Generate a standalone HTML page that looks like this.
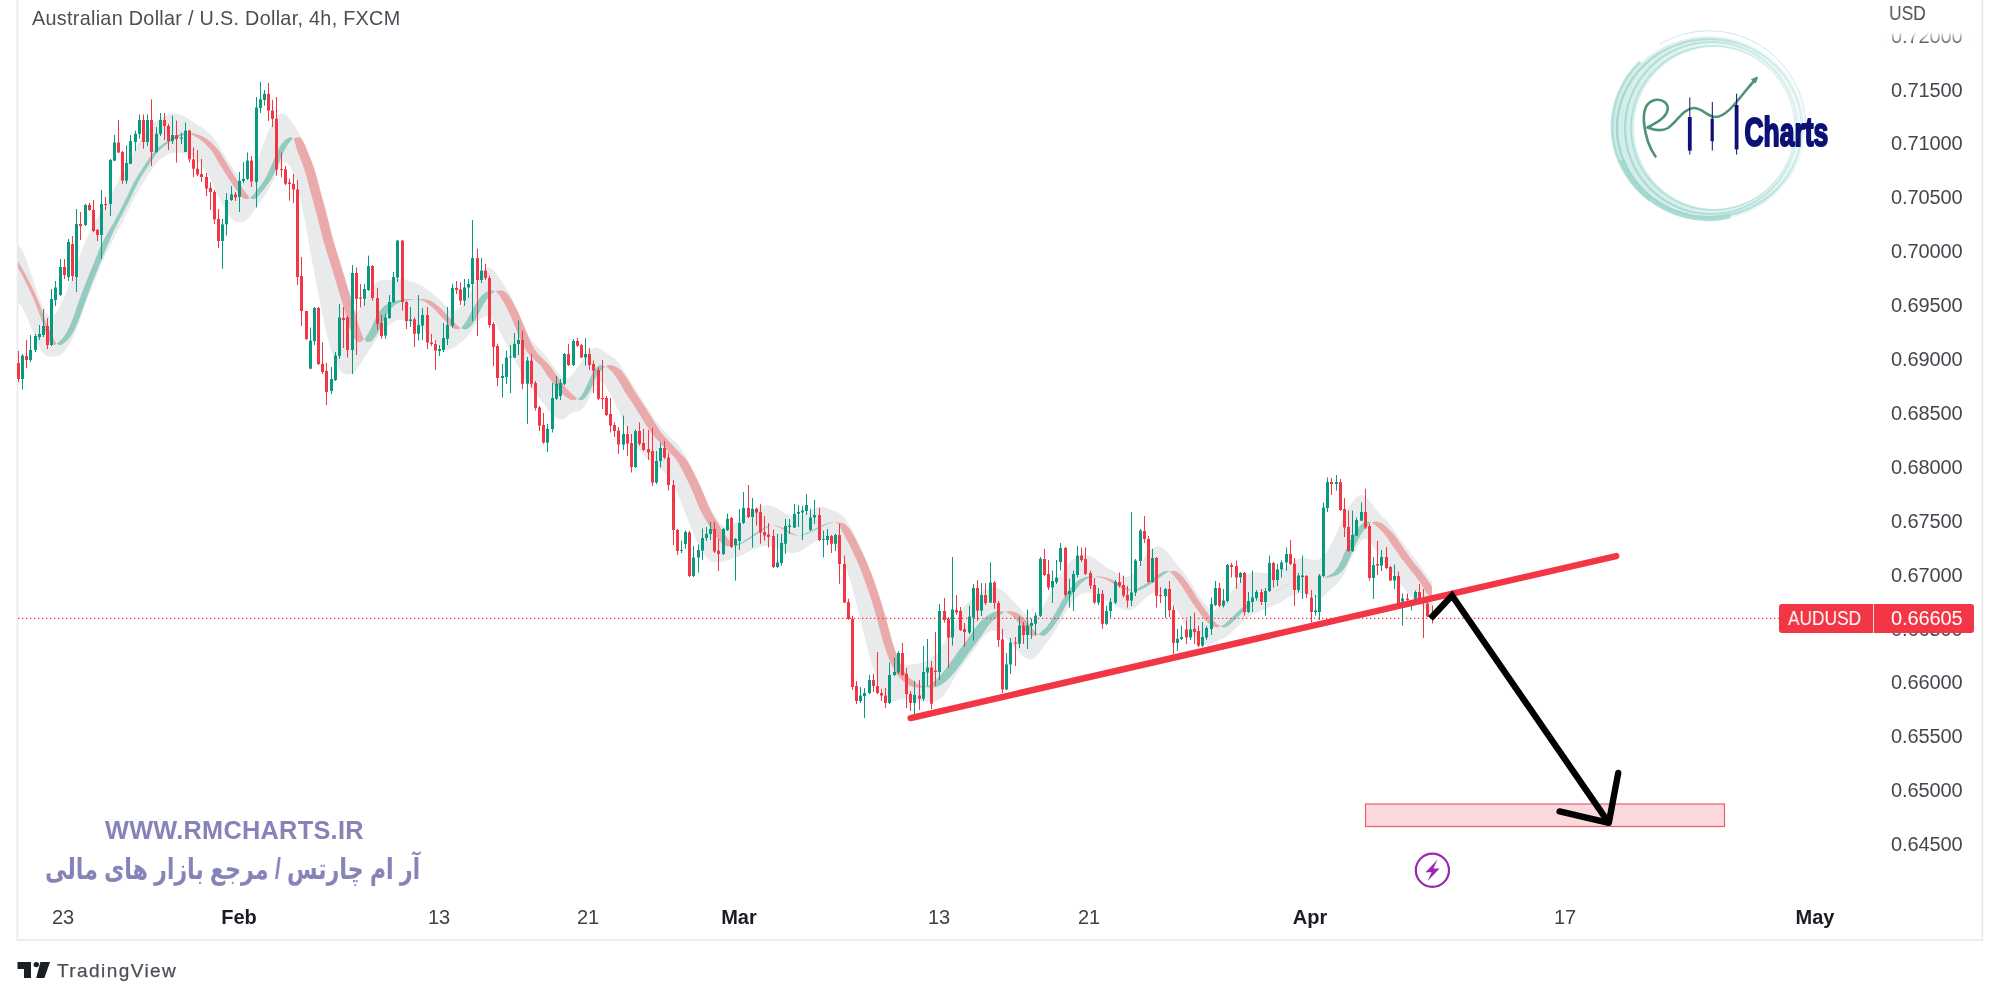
<!DOCTYPE html>
<html lang="en">
<head>
<meta charset="utf-8">
<title>AUDUSD 4h chart</title>
<style>
html,body{margin:0;padding:0;background:#fff;}
body{width:2000px;height:1000px;position:relative;overflow:hidden;font-family:"Liberation Sans","DejaVu Sans",sans-serif;}
#chart{position:absolute;left:0;top:0;width:2000px;height:1000px;will-change:transform;}
.t,.ax,.tm,.wm{will-change:transform;}
.t{position:absolute;white-space:nowrap;line-height:1;color:#4a4c55;font-size:20px;}
.ax{position:absolute;left:1891px;font-size:20px;line-height:1;color:#45474f;white-space:nowrap;letter-spacing:-0.1px;}
.tm{position:absolute;top:907px;font-size:20px;line-height:1;color:#40424a;white-space:nowrap;transform:translateX(-50%);}
.tm.b{font-weight:bold;color:#1a1c24;}
.wm{position:absolute;white-space:nowrap;line-height:1;color:#8583b7;font-weight:bold;}
</style>
</head>
<body>
<svg id="chart" width="2000" height="1000" viewBox="0 0 2000 1000">
<!-- frame -->
<rect x="16.6" y="0" width="1.8" height="941" fill="#ebebeb"/>
<rect x="16.6" y="939.2" width="1966" height="1.8" fill="#ebebeb"/>
<rect x="1981.4" y="0" width="1.8" height="941" fill="#ebebeb"/>
<polygon points="18,245.3 20,247.3 22,250.3 24,254.3 26,259.1 28,264.5 30,270.3 32,276.4 34,282.5 36,288.4 38,294.1 40,299.7 42,304.7 44,309.1 46,312.6 48,315.0 50,316.0 52,316.1 54,315.0 56,313.0 58,310.1 60,306.5 62,302.2 64,297.6 66,292.7 68,287.6 70,282.4 72,277.0 74,271.7 76,266.2 78,260.8 80,255.4 82,250.1 84,245.0 86,240.2 88,235.7 90,231.4 92,227.4 94,223.7 96,220.2 98,216.8 100,213.6 102,210.4 104,207.2 106,203.8 108,200.3 110,196.7 112,193.0 114,189.3 116,185.6 118,182.0 120,178.2 122,174.5 124,170.7 126,166.9 128,163.1 130,159.2 132,155.4 134,151.5 136,147.5 138,143.7 140,140.0 142,136.5 144,133.4 146,130.7 148,128.2 150,126.1 152,124.2 154,122.5 156,121.0 158,119.8 160,118.6 162,117.5 164,116.5 166,115.7 168,114.9 170,114.3 172,113.9 174,113.8 176,113.9 178,114.2 180,114.7 182,115.4 184,116.3 186,117.3 188,118.5 190,119.8 192,121.2 194,122.6 196,123.9 198,125.1 200,126.3 202,127.5 204,128.8 206,130.4 208,132.2 210,134.1 212,136.3 214,138.7 216,141.4 218,144.4 220,147.6 222,150.9 224,154.2 226,157.5 228,160.7 230,163.8 232,166.9 234,170.0 236,173.0 238,175.9 240,178.7 242,180.6 244,181.5 246,181.1 248,179.4 250,176.3 252,172.8 254,168.6 256,164.0 258,159.0 260,153.8 262,148.3 264,142.7 266,137.3 268,132.2 270,127.7 272,123.6 274,120.3 276,117.5 278,115.4 280,114.1 282,113.4 284,113.7 286,114.8 288,116.8 290,119.5 292,122.2 294,125.0 296,128.2 298,131.4 300,135.0 302,139.3 304,144.1 306,149.3 308,154.9 310,161.1 312,167.8 314,174.9 316,182.2 318,189.7 320,197.2 322,204.8 324,212.5 326,220.1 328,227.6 330,234.7 332,241.4 334,248.0 336,254.4 338,260.9 340,267.5 342,274.1 344,280.7 346,287.4 348,294.1 350,300.8 352,306.5 354,310.2 356,311.9 358,311.4 360,308.8 362,305.0 364,301.2 366,297.4 368,293.9 370,290.6 372,287.6 374,285.1 376,283.1 378,281.6 380,280.7 382,280.3 384,280.2 386,280.1 388,280.1 390,279.8 392,279.5 394,279.3 396,279.0 398,278.9 400,278.9 402,279.1 404,279.3 406,279.7 408,280.2 410,280.9 412,281.6 414,282.3 416,283.1 418,283.9 420,284.7 422,285.7 424,287.1 426,288.5 428,290.0 430,291.6 432,293.2 434,294.8 436,296.5 438,298.4 440,300.5 442,302.6 444,304.7 446,306.8 448,308.9 450,310.4 452,311.2 454,311.3 456,310.7 458,309.2 460,307.3 462,305.0 464,302.4 466,299.3 468,295.9 470,292.3 472,288.5 474,284.6 476,280.7 478,277.1 480,273.8 482,271.1 484,269.2 486,267.9 488,267.6 490,267.9 492,269.1 494,270.8 496,273.3 498,276.0 500,278.9 502,281.9 504,284.9 506,287.9 508,291.1 510,294.7 512,298.6 514,302.7 516,307.1 518,311.8 520,316.5 522,321.4 524,326.0 526,330.4 528,334.3 530,337.8 532,340.7 534,343.3 536,345.6 538,347.6 540,349.6 542,351.6 544,353.7 546,356.1 548,358.7 550,361.5 552,364.4 554,367.2 556,369.9 558,372.5 560,374.9 562,376.9 564,378.1 566,378.5 568,378.1 570,376.7 572,374.7 574,372.3 576,369.6 578,366.6 580,363.6 582,360.6 584,357.7 586,355.1 588,352.7 590,350.7 592,349.2 594,348.2 596,347.8 598,347.9 600,348.6 602,349.8 604,351.3 606,352.8 608,354.2 610,355.5 612,356.8 614,358.3 616,360.1 618,362.2 620,364.8 622,367.7 624,370.8 626,374.0 628,377.4 630,380.6 632,383.8 634,387.0 636,390.0 638,393.1 640,396.2 642,399.3 644,402.5 646,405.7 648,408.9 650,412.1 652,415.2 654,418.2 656,421.0 658,423.6 660,426.1 662,428.3 664,430.5 666,432.7 668,434.8 670,436.9 672,439.0 674,441.0 676,443.0 678,445.2 680,447.6 682,450.2 684,453.3 686,456.7 688,460.4 690,464.4 692,468.4 694,472.6 696,477.0 698,481.6 700,486.4 702,491.1 704,495.6 706,499.9 708,503.8 710,507.4 712,510.9 714,514.2 716,517.4 718,520.5 720,523.2 722,525.0 724,526.1 726,526.4 728,526.0 730,525.2 732,524.3 734,523.2 736,522.0 738,520.8 740,519.5 742,518.1 744,516.7 746,515.2 748,513.7 750,512.1 752,510.7 754,509.4 756,508.2 758,507.3 760,506.4 762,505.8 764,505.4 766,505.2 768,505.2 770,505.5 772,506.1 774,506.9 776,507.9 778,509.0 780,510.2 782,511.4 784,512.6 786,513.7 788,514.7 790,515.5 792,516.0 794,516.3 796,516.3 798,516.0 800,515.5 802,514.8 804,513.9 806,512.9 808,511.8 810,510.7 812,509.6 814,508.7 816,507.9 818,507.3 820,507.0 822,506.9 824,507.1 826,507.6 828,508.4 830,509.3 832,510.1 834,510.8 836,511.6 838,512.5 840,513.5 842,515.1 844,517.2 846,519.8 848,522.9 850,526.4 852,530.1 854,534.0 856,538.1 858,542.2 860,546.5 862,551.0 864,555.7 866,560.7 868,566.0 870,571.5 872,577.3 874,583.2 876,589.5 878,596.0 880,602.8 882,609.8 884,617.0 886,624.1 888,630.9 890,637.2 892,643.0 894,648.2 896,652.8 898,656.9 900,660.2 902,662.5 904,664.0 906,664.6 908,664.7 910,664.5 912,664.3 914,664.1 916,663.9 918,663.6 920,663.2 922,662.7 924,662.0 926,661.1 928,660.1 930,658.8 932,657.4 934,655.8 936,654.1 938,651.9 940,649.3 942,646.3 944,642.8 946,638.9 948,634.9 950,630.8 952,626.8 954,623.0 956,619.3 958,615.9 960,612.7 962,609.7 964,607.1 966,604.8 968,602.7 970,600.8 972,599.0 974,597.2 976,595.6 978,594.0 980,592.7 982,591.5 984,590.5 986,589.7 988,589.0 990,588.3 992,588.0 994,587.8 996,587.9 998,588.3 1000,589.1 1002,590.2 1004,591.6 1006,593.2 1008,595.1 1010,597.2 1012,599.5 1014,601.7 1016,603.9 1018,606.1 1020,608.3 1022,610.5 1024,612.7 1026,614.6 1028,616.1 1030,617.0 1032,617.2 1034,616.6 1036,615.5 1038,613.6 1040,611.2 1042,608.2 1044,604.9 1046,601.2 1048,597.3 1050,593.3 1052,589.4 1054,585.6 1056,582.0 1058,578.5 1060,575.3 1062,572.2 1064,569.2 1066,566.5 1068,564.1 1070,562.0 1072,560.2 1074,558.7 1076,557.5 1078,556.5 1080,555.7 1082,555.2 1084,555.1 1086,555.1 1088,555.5 1090,556.1 1092,557.0 1094,558.0 1096,559.3 1098,560.7 1100,562.3 1102,564.0 1104,565.5 1106,566.9 1108,568.2 1110,569.3 1112,570.3 1114,571.4 1116,572.5 1118,573.7 1120,574.8 1122,575.9 1124,576.7 1126,577.1 1128,577.0 1130,576.1 1132,574.6 1134,572.5 1136,569.9 1138,567.0 1140,564.1 1142,561.0 1144,558.1 1146,555.4 1148,552.8 1150,550.6 1152,548.8 1154,547.4 1156,546.6 1158,546.3 1160,546.6 1162,547.4 1164,548.7 1166,550.5 1168,552.8 1170,555.5 1172,558.1 1174,560.7 1176,563.1 1178,565.4 1180,567.6 1182,570.1 1184,572.9 1186,575.8 1188,578.9 1190,582.0 1192,585.1 1194,588.2 1196,591.2 1198,594.1 1200,597.0 1202,599.8 1204,602.6 1206,605.2 1208,607.6 1210,609.3 1212,610.2 1214,610.2 1216,609.4 1218,607.8 1220,605.7 1222,603.5 1224,601.1 1226,598.5 1228,596.0 1230,593.3 1232,590.6 1234,587.9 1236,585.3 1238,582.7 1240,580.4 1242,578.4 1244,576.6 1246,575.1 1248,573.9 1250,573.1 1252,572.6 1254,572.3 1256,572.2 1258,572.3 1260,572.5 1262,572.7 1264,572.9 1266,573.1 1268,573.2 1270,573.2 1272,573.1 1274,572.7 1276,572.2 1278,571.5 1280,570.5 1282,569.4 1284,568.2 1286,566.8 1288,565.4 1290,563.9 1292,562.4 1294,561.1 1296,559.9 1298,559.0 1300,558.4 1302,558.1 1304,558.1 1306,558.3 1308,558.7 1310,559.2 1312,559.7 1314,560.0 1316,560.1 1318,559.7 1320,558.8 1322,557.4 1324,555.4 1326,552.8 1328,549.7 1330,546.1 1332,542.3 1334,538.2 1336,534.0 1338,529.7 1340,525.3 1342,521.0 1344,516.7 1346,512.7 1348,508.9 1350,505.4 1352,502.3 1354,499.7 1356,497.6 1358,496.2 1360,495.4 1362,495.3 1364,496.0 1366,497.3 1368,499.1 1370,501.4 1372,503.9 1374,506.7 1376,509.3 1378,511.8 1380,514.1 1382,516.2 1384,518.1 1386,520.1 1388,522.3 1390,524.7 1392,527.3 1394,530.1 1396,533.0 1398,535.9 1400,538.8 1402,541.6 1404,544.4 1406,547.1 1408,549.8 1410,552.4 1412,554.9 1414,557.5 1416,560.0 1418,562.6 1420,565.3 1422,568.0 1424,570.9 1426,573.9 1428,576.9 1430,579.4 1432,581.3 1432,614.5 1430,613.5 1428,612.2 1426,610.5 1424,608.6 1422,606.7 1420,604.8 1418,602.9 1416,601.0 1414,599.2 1412,597.4 1410,595.5 1408,593.4 1406,591.1 1404,588.7 1402,586.0 1400,583.2 1398,580.3 1396,577.4 1394,574.4 1392,571.6 1390,568.9 1388,566.4 1386,564.1 1384,561.8 1382,559.4 1380,556.8 1378,554.0 1376,551.0 1374,547.8 1372,544.7 1370,541.7 1368,539.7 1366,538.7 1364,538.9 1362,540.3 1360,542.7 1358,545.7 1356,549.1 1354,552.7 1352,556.7 1350,561.0 1348,565.3 1346,569.7 1344,573.8 1342,577.5 1340,580.6 1338,583.0 1336,584.9 1334,586.4 1332,588.1 1330,589.9 1328,592.0 1326,594.1 1324,596.2 1322,597.6 1320,598.3 1318,598.3 1316,597.9 1314,597.0 1312,596.0 1310,594.9 1308,594.0 1306,593.3 1304,593.0 1302,592.9 1300,593.1 1298,593.5 1296,594.0 1294,594.6 1292,595.4 1290,596.4 1288,597.6 1286,598.8 1284,600.2 1282,601.5 1280,602.7 1278,603.8 1276,604.6 1274,605.4 1272,606.1 1270,606.8 1268,607.5 1266,608.4 1264,609.4 1262,610.3 1260,611.2 1258,612.1 1256,613.1 1254,614.0 1252,615.1 1250,616.2 1248,617.5 1246,619.0 1244,620.6 1242,622.3 1240,624.2 1238,626.1 1236,628.0 1234,630.0 1232,631.9 1230,633.8 1228,635.5 1226,636.9 1224,638.0 1222,638.8 1220,639.7 1218,640.6 1216,641.5 1214,642.7 1212,643.8 1210,644.6 1208,645.1 1206,645.2 1204,644.8 1202,644.1 1200,643.0 1198,641.5 1196,639.7 1194,637.6 1192,635.2 1190,632.5 1188,629.6 1186,626.4 1184,622.9 1182,619.3 1180,615.7 1178,612.1 1176,608.7 1174,605.4 1172,602.5 1170,599.9 1168,597.7 1166,595.8 1164,594.4 1162,593.3 1160,592.6 1158,592.2 1156,592.3 1154,592.8 1152,593.6 1150,594.7 1148,596.1 1146,597.7 1144,599.4 1142,601.3 1140,603.3 1138,605.3 1136,607.1 1134,608.6 1132,609.7 1130,610.3 1128,610.5 1126,610.3 1124,609.7 1122,608.9 1120,608.0 1118,607.0 1116,605.9 1114,604.9 1112,603.8 1110,602.7 1108,601.5 1106,600.3 1104,599.2 1102,598.0 1100,596.8 1098,595.7 1096,594.8 1094,593.9 1092,593.3 1090,592.8 1088,592.7 1086,592.8 1084,593.2 1082,593.9 1080,594.9 1078,596.3 1076,598.0 1074,600.1 1072,602.6 1070,605.4 1068,608.5 1066,611.7 1064,615.2 1062,618.7 1060,622.3 1058,625.8 1056,629.3 1054,632.5 1052,635.6 1050,638.5 1048,641.0 1046,643.5 1044,646.2 1042,648.9 1040,651.7 1038,654.4 1036,656.7 1034,658.4 1032,659.4 1030,659.7 1028,659.3 1026,658.4 1024,657.0 1022,655.3 1020,653.4 1018,651.4 1016,649.3 1014,647.1 1012,644.9 1010,642.7 1008,640.5 1006,638.4 1004,636.4 1002,634.5 1000,633.0 998,631.7 996,631.0 994,630.6 992,630.8 990,631.5 988,632.7 986,634.3 984,636.4 982,638.8 980,641.5 978,644.3 976,647.2 974,650.0 972,652.8 970,655.5 968,658.1 966,660.8 964,663.6 962,666.3 960,669.2 958,672.1 956,675.2 954,678.6 952,682.0 950,685.5 948,689.0 946,692.1 944,694.8 942,697.0 940,698.7 938,699.9 936,700.9 934,701.4 932,701.8 930,701.9 928,701.8 926,701.5 924,701.2 922,700.9 920,700.6 918,700.2 916,699.8 914,699.4 912,699.1 910,698.7 908,698.5 906,698.4 904,698.6 902,699.0 900,699.5 898,700.1 896,700.7 894,701.1 892,701.1 890,700.7 888,699.5 886,697.7 884,695.1 882,691.7 880,687.6 878,682.7 876,677.1 874,671.0 872,664.4 870,657.4 868,650.1 866,642.5 864,634.7 862,626.7 860,618.5 858,610.3 856,602.3 854,594.4 852,586.9 850,579.9 848,573.3 846,567.3 844,561.9 842,557.2 840,553.1 838,549.8 836,546.9 834,544.6 832,542.7 830,541.2 828,540.1 826,539.4 824,539.0 822,539.1 820,539.5 818,540.1 816,541.0 814,542.2 812,543.4 810,544.7 808,546.1 806,547.5 804,548.8 802,550.0 800,551.0 798,551.9 796,552.5 794,552.9 792,553.0 790,552.9 788,552.5 786,552.0 784,551.3 782,550.5 780,549.7 778,548.9 776,548.1 774,547.3 772,546.7 770,546.1 768,545.9 766,545.9 764,546.1 762,546.5 760,547.0 758,547.7 756,548.4 754,549.1 752,550.0 750,551.0 748,552.0 746,553.0 744,554.0 742,555.0 740,555.9 738,556.8 736,557.5 734,558.2 732,558.9 730,559.4 728,560.0 726,560.6 724,561.2 722,561.7 720,562.1 718,562.5 716,562.6 714,562.4 712,561.7 710,560.6 708,559.0 706,557.0 704,554.4 702,551.4 700,547.9 698,544.0 696,539.6 694,535.0 692,530.0 690,525.0 688,519.9 686,514.8 684,509.7 682,504.6 680,499.6 678,494.8 676,490.3 674,486.2 672,482.5 670,479.2 668,476.3 666,473.8 664,471.8 662,470.0 660,468.5 658,467.1 656,465.8 654,464.4 652,462.9 650,461.3 648,459.5 646,457.6 644,455.6 642,453.4 640,451.1 638,448.5 636,445.7 634,442.7 632,439.4 630,435.8 628,432.0 626,427.9 624,423.6 622,419.1 620,414.6 618,410.0 616,405.6 614,401.3 612,397.2 610,393.4 608,389.9 606,386.8 604,384.2 602,382.5 600,382.0 598,382.7 596,384.9 594,388.2 592,392.2 590,396.3 588,400.4 586,404.0 584,407.0 582,409.3 580,410.8 578,411.5 576,411.6 574,412.0 572,412.8 570,414.0 568,415.7 566,417.5 564,418.8 562,419.5 560,419.6 558,419.1 556,418.1 554,416.6 552,414.7 550,412.4 548,409.9 546,407.1 544,404.3 542,401.7 540,399.1 538,396.7 536,394.3 534,391.9 532,389.3 530,386.5 528,383.5 526,380.3 524,377.0 522,373.5 520,369.9 518,366.3 516,362.5 514,358.7 512,354.8 510,351.0 508,347.3 506,343.6 504,339.7 502,335.8 500,331.8 498,327.9 496,324.4 494,321.3 492,319.0 490,317.4 488,316.5 486,316.3 484,316.8 482,317.8 480,319.3 478,321.4 476,324.1 474,327.1 472,330.2 470,333.2 468,336.0 466,338.2 464,339.9 462,341.4 460,342.9 458,344.4 456,345.9 454,347.4 452,348.6 450,349.3 448,349.8 446,349.7 444,349.1 442,347.9 440,346.4 438,344.4 436,342.2 434,339.8 432,337.5 430,335.2 428,333.1 426,331.2 424,329.5 422,328.1 420,326.9 418,325.9 416,325.0 414,324.2 412,323.3 410,322.4 408,321.5 406,320.7 404,320.1 402,319.7 400,319.6 398,319.9 396,320.6 394,321.6 392,322.9 390,324.4 388,326.0 386,327.7 384,329.5 382,331.3 380,333.6 378,336.4 376,339.5 374,342.8 372,346.2 370,349.1 368,352.0 366,355.1 364,358.3 362,361.5 360,364.8 358,367.7 356,370.2 354,372.0 352,373.4 350,374.2 348,374.6 346,374.3 344,373.6 342,372.2 340,370.2 338,367.3 336,363.6 334,358.9 332,353.2 330,346.5 328,339.0 326,330.7 324,321.7 322,312.2 320,302.3 318,292.1 316,281.6 314,271.0 312,260.3 310,249.4 308,238.5 306,227.6 304,217.0 302,206.8 300,197.4 298,189.0 296,181.7 294,175.4 292,170.3 290,166.3 288,163.5 286,161.8 284,161.8 282,163.2 280,165.9 278,169.7 276,174.2 274,178.7 272,183.0 270,187.0 268,190.6 266,193.8 264,196.7 262,199.4 260,202.0 258,204.5 256,207.4 254,210.4 252,213.4 250,216.2 248,218.6 246,220.3 244,221.5 242,222.0 240,222.2 238,222.0 236,221.5 234,220.4 232,218.8 230,216.6 228,213.9 226,210.8 224,207.3 222,203.5 220,199.5 218,195.3 216,191.0 214,186.7 212,182.6 210,178.7 208,175.1 206,171.9 204,169.0 202,166.3 200,163.9 198,161.8 196,159.9 194,158.3 192,157.0 190,155.9 188,155.0 186,154.3 184,153.7 182,153.3 180,153.0 178,152.8 176,152.7 174,152.7 172,153.0 170,153.5 168,154.4 166,155.5 164,156.8 162,158.3 160,160.0 158,161.9 156,164.1 154,166.6 152,169.3 150,172.2 148,175.1 146,178.2 144,181.2 142,184.4 140,187.6 138,191.0 136,194.6 134,198.5 132,202.5 130,206.6 128,210.7 126,214.8 124,218.8 122,222.7 120,226.6 118,230.5 116,234.3 114,238.2 112,242.1 110,246.0 108,250.0 106,254.1 104,258.4 102,262.9 100,267.6 98,272.5 96,277.4 94,282.4 92,287.4 90,292.4 88,297.5 86,302.8 84,308.2 82,313.8 80,319.4 78,324.9 76,330.2 74,335.1 72,339.5 70,343.4 68,346.7 66,349.5 64,351.9 62,353.8 60,355.2 58,356.0 56,356.4 54,356.6 52,356.7 50,356.6 48,356.4 46,355.6 44,353.9 42,351.4 40,348.1 38,344.1 36,339.6 34,334.8 32,329.8 30,324.7 28,319.8 26,315.2 24,311.0 22,307.3 20,304.6 18,302.8" fill="#e5e8e9" opacity="0.9"/>
<polygon points="18.0,267.7 19.0,269.4 20.0,271.2 21.0,273.1 22.0,274.9 23.0,276.8 24.0,278.8 25.0,280.7 26.0,282.7 27.0,284.7 28.0,286.7 29.0,288.8 30.0,290.9 31.0,293.1 32.0,295.4 33.0,297.6 34.0,300.0 35.0,302.4 36.0,304.9 37.0,307.5 38.0,310.1 39.0,312.8 40.0,315.6 41.0,318.4 42.0,321.3 43.0,324.3 44.0,327.2 45.0,330.1 46.0,332.8 47.0,335.4 48.0,337.8 49.0,340.5 50.0,342.5 51.0,344.0 52.0,344.9 53.0,345.1 54.0,345.0 55.0,344.7 56.0,344.3 56.0,342.8 55.0,341.4 54.0,339.8 53.0,337.7 52.0,335.3 51.0,333.6 50.0,331.8 49.0,330.0 48.0,328.1 47.0,325.2 46.0,322.3 45.0,319.3 44.0,316.5 43.0,313.7 42.0,310.9 41.0,308.3 40.0,305.7 39.0,303.2 38.0,300.8 37.0,298.4 36.0,296.1 35.0,293.8 34.0,291.6 33.0,289.5 32.0,287.4 31.0,285.3 30.0,283.3 29.0,281.3 28.0,279.4 27.0,277.5 26.0,275.5 25.0,273.7 24.0,271.8 23.0,270.0 22.0,268.2 21.0,266.5 20.0,264.8 19.0,263.1 18.0,261.5" fill="#eaa2a4" opacity="0.9"/>
<polygon points="57.0,343.6 58.0,342.8 59.0,341.9 60.0,341.0 61.0,340.1 62.0,339.0 63.0,337.8 64.0,336.5 65.0,335.0 66.0,333.3 67.0,331.5 68.0,329.6 69.0,327.5 70.0,325.4 71.0,323.1 72.0,320.6 73.0,318.1 74.0,315.4 75.0,312.6 76.0,309.6 77.0,306.7 78.0,303.8 79.0,301.0 80.0,298.2 81.0,295.5 82.0,292.8 83.0,290.1 84.0,287.4 85.0,284.8 86.0,282.2 87.0,279.7 88.0,277.2 89.0,274.7 90.0,272.3 91.0,269.9 92.0,267.4 93.0,265.0 94.0,262.5 95.0,259.9 96.0,257.4 97.0,254.9 98.0,252.4 99.0,250.1 100.0,247.8 101.0,245.6 102.0,243.6 103.0,241.6 104.0,239.6 105.0,237.6 106.0,235.8 107.0,234.0 108.0,232.3 109.0,230.5 110.0,228.8 111.0,227.1 112.0,225.4 113.0,223.7 114.0,222.0 115.0,220.3 116.0,218.3 117.0,216.4 118.0,214.5 119.0,212.6 120.0,210.6 121.0,208.7 122.0,206.7 123.0,204.7 124.0,202.7 125.0,200.7 126.0,198.6 127.0,196.5 128.0,194.4 129.0,192.4 130.0,190.3 131.0,188.2 132.0,186.1 133.0,184.1 134.0,182.2 135.0,180.3 136.0,178.6 137.0,176.9 138.0,175.3 139.0,173.7 140.0,172.2 141.0,170.7 142.0,169.1 143.0,167.6 144.0,166.0 145.0,164.5 146.0,163.0 147.0,161.5 148.0,160.0 149.0,158.5 150.0,157.1 151.0,155.6 152.0,154.2 153.0,152.9 154.0,151.6 155.0,150.5 156.0,149.5 157.0,148.5 158.0,147.7 159.0,146.9 160.0,146.2 161.0,145.5 162.0,144.7 163.0,144.0 164.0,143.3 165.0,142.5 166.0,141.8 167.0,141.1 168.0,140.4 169.0,139.7 170.0,139.0 171.0,138.4 172.0,137.8 173.0,137.3 174.0,136.7 175.0,136.2 176.0,135.7 177.0,135.2 178.0,134.8 179.0,134.4 180.0,134.0 181.0,133.7 182.0,133.5 183.0,133.3 184.0,133.2 185.0,133.2 186.0,133.3 187.0,133.5 187.0,133.9 186.0,134.2 185.0,134.5 184.0,134.9 183.0,135.3 182.0,135.7 181.0,136.1 180.0,136.5 179.0,137.0 178.0,137.4 177.0,137.9 176.0,138.4 175.0,139.0 174.0,139.5 173.0,140.1 172.0,140.7 171.0,141.4 170.0,142.0 169.0,142.7 168.0,143.4 167.0,144.1 166.0,144.8 165.0,145.6 164.0,146.3 163.0,147.1 162.0,147.8 161.0,148.7 160.0,149.6 159.0,150.7 158.0,151.8 157.0,153.0 156.0,154.4 155.0,155.8 154.0,157.3 153.0,158.7 152.0,160.2 151.0,161.7 150.0,163.2 149.0,164.7 148.0,166.3 147.0,167.8 146.0,169.3 145.0,170.9 144.0,172.4 143.0,174.0 142.0,175.5 141.0,177.1 140.0,178.8 139.0,180.6 138.0,182.5 137.0,184.4 136.0,186.4 135.0,188.5 134.0,190.6 133.0,192.6 132.0,194.7 131.0,196.8 130.0,198.9 129.0,201.0 128.0,203.0 127.0,205.0 126.0,207.0 125.0,209.0 124.0,210.9 123.0,212.8 122.0,214.8 121.0,216.7 120.0,218.6 119.0,220.5 118.0,222.4 117.0,224.4 116.0,226.3 115.0,228.2 114.0,230.4 113.0,232.6 112.0,234.8 111.0,237.1 110.0,239.3 109.0,241.5 108.0,243.8 107.0,246.1 106.0,248.5 105.0,251.1 104.0,253.5 103.0,256.0 102.0,258.5 101.0,261.1 100.0,263.6 99.0,266.1 98.0,268.5 97.0,270.9 96.0,273.3 95.0,275.8 94.0,278.3 93.0,280.8 92.0,283.4 91.0,285.9 90.0,288.6 89.0,291.3 88.0,293.9 87.0,296.7 86.0,299.4 85.0,302.3 84.0,305.1 83.0,308.0 82.0,310.9 81.0,313.8 80.0,316.6 79.0,319.2 78.0,321.7 77.0,324.1 76.0,326.3 75.0,328.4 74.0,330.4 73.0,332.3 72.0,334.1 71.0,335.7 70.0,337.1 69.0,338.4 68.0,339.5 67.0,340.5 66.0,341.4 65.0,342.3 64.0,343.1 63.0,343.9 62.0,344.5 61.0,344.9 60.0,345.1 59.0,345.1 58.0,344.7 57.0,343.9" fill="#8ac8bb" opacity="0.9"/>
<polygon points="188.0,133.7 189.0,134.0 190.0,134.3 191.0,134.6 192.0,135.0 193.0,135.5 194.0,136.0 195.0,136.5 196.0,137.0 197.0,137.5 198.0,138.1 199.0,138.7 200.0,139.4 201.0,140.1 202.0,140.9 203.0,141.8 204.0,142.7 205.0,143.7 206.0,144.7 207.0,145.7 208.0,146.7 209.0,147.7 210.0,148.9 211.0,150.2 212.0,151.6 213.0,153.0 214.0,154.6 215.0,156.3 216.0,158.0 217.0,159.7 218.0,161.4 219.0,163.1 220.0,164.7 221.0,166.4 222.0,168.0 223.0,169.6 224.0,171.2 225.0,172.8 226.0,174.4 227.0,175.9 228.0,177.5 229.0,179.0 230.0,180.5 231.0,182.0 232.0,183.5 233.0,185.0 234.0,186.5 235.0,188.0 236.0,189.4 237.0,190.8 238.0,192.2 239.0,193.6 240.0,194.8 241.0,196.0 242.0,197.0 243.0,197.9 244.0,198.5 245.0,199.0 246.0,199.1 247.0,199.1 248.0,198.8 249.0,198.4 249.0,196.7 248.0,195.6 247.0,194.4 246.0,193.1 245.0,191.7 244.0,190.3 243.0,188.9 242.0,187.4 241.0,186.0 240.0,184.5 239.0,183.0 238.0,181.5 237.0,180.0 236.0,178.5 235.0,176.9 234.0,175.4 233.0,173.8 232.0,172.2 231.0,170.6 230.0,169.0 229.0,167.4 228.0,165.8 227.0,164.1 226.0,162.5 225.0,160.8 224.0,159.1 223.0,157.4 222.0,155.7 221.0,154.0 220.0,152.5 219.0,151.1 218.0,149.7 217.0,148.5 216.0,147.4 215.0,146.3 214.0,145.3 213.0,144.3 212.0,143.3 211.0,142.4 210.0,141.5 209.0,140.6 208.0,139.9 207.0,139.1 206.0,138.5 205.0,137.9 204.0,137.3 203.0,136.8 202.0,136.3 201.0,135.8 200.0,135.3 199.0,134.9 198.0,134.5 197.0,134.2 196.0,133.9 195.0,133.6 194.0,133.4 193.0,133.3 192.0,133.2 191.0,133.3 190.0,133.3 189.0,133.5 188.0,133.7" fill="#eaa2a4" opacity="0.9"/>
<polygon points="250.0,197.7 251.0,196.9 252.0,196.0 253.0,194.8 254.0,193.5 255.0,192.2 256.0,190.9 257.0,189.7 258.0,188.4 259.0,187.2 260.0,186.0 261.0,184.7 262.0,183.3 263.0,181.9 264.0,180.4 265.0,178.7 266.0,176.9 267.0,175.0 268.0,173.0 269.0,170.8 270.0,168.6 271.0,166.4 272.0,164.0 273.0,161.7 274.0,159.4 275.0,157.0 276.0,154.7 277.0,152.5 278.0,150.4 279.0,148.5 280.0,146.7 281.0,145.0 282.0,143.6 283.0,142.4 284.0,141.2 285.0,140.1 286.0,139.2 287.0,138.5 288.0,137.9 289.0,137.5 290.0,137.3 291.0,137.3 292.0,137.8 293.0,138.7 293.0,138.8 292.0,139.6 291.0,140.6 290.0,141.7 289.0,142.9 288.0,144.2 287.0,145.7 286.0,147.4 285.0,149.3 284.0,151.3 283.0,153.4 282.0,155.7 281.0,158.1 280.0,160.4 279.0,162.7 278.0,165.1 277.0,167.4 276.0,169.6 275.0,171.8 274.0,173.9 273.0,175.8 272.0,177.7 271.0,179.5 270.0,181.1 269.0,182.5 268.0,183.9 267.0,185.3 266.0,186.5 265.0,187.8 264.0,189.0 263.0,190.2 262.0,191.5 261.0,192.8 260.0,194.1 259.0,195.3 258.0,196.4 257.0,197.4 256.0,198.2 255.0,198.8 254.0,199.1 253.0,199.1 252.0,199.0 251.0,198.5 250.0,197.8" fill="#8ac8bb" opacity="0.9"/>
<polygon points="294.0,140.0 295.0,142.8 296.0,146.3 297.0,150.2 298.0,152.7 299.0,155.2 300.0,157.7 301.0,160.2 302.0,162.7 303.0,165.4 304.0,168.3 305.0,171.5 306.0,174.9 307.0,178.4 308.0,182.2 309.0,186.0 310.0,189.9 311.0,193.6 312.0,197.3 313.0,200.9 314.0,204.5 315.0,208.2 316.0,211.9 317.0,215.7 318.0,219.7 319.0,223.7 320.0,227.7 321.0,231.8 322.0,235.6 323.0,239.3 324.0,242.9 325.0,246.3 326.0,249.6 327.0,252.8 328.0,255.9 329.0,259.1 330.0,262.3 331.0,265.5 332.0,268.8 333.0,272.1 334.0,275.3 335.0,278.6 336.0,281.9 337.0,285.2 338.0,288.6 339.0,291.9 340.0,295.2 341.0,298.5 342.0,301.9 343.0,305.3 344.0,308.6 345.0,312.0 346.0,315.4 347.0,318.7 348.0,322.1 349.0,325.4 350.0,328.4 351.0,331.3 352.0,333.9 353.0,336.1 354.0,337.9 355.0,339.3 356.0,340.4 357.0,341.3 358.0,341.9 359.0,342.2 360.0,342.0 361.0,341.7 362.0,341.1 363.0,340.3 364.0,339.2 364.0,338.7 363.0,336.9 362.0,334.7 361.0,332.1 360.0,329.4 359.0,326.4 358.0,323.2 357.0,319.6 356.0,316.0 355.0,312.4 354.0,308.7 353.0,305.1 352.0,301.5 351.0,298.1 350.0,294.8 349.0,291.5 348.0,288.2 347.0,284.8 346.0,281.5 345.0,278.2 344.0,274.9 343.0,271.7 342.0,268.4 341.0,265.2 340.0,261.9 339.0,258.7 338.0,255.5 337.0,252.4 336.0,249.2 335.0,245.9 334.0,242.5 333.0,238.9 332.0,235.2 331.0,231.3 330.0,227.3 329.0,223.2 328.0,219.2 327.0,215.3 326.0,211.5 325.0,207.7 324.0,204.1 323.0,200.5 322.0,196.9 321.0,193.2 320.0,189.4 319.0,185.6 318.0,181.7 317.0,178.0 316.0,174.4 315.0,171.1 314.0,168.0 313.0,165.1 312.0,162.3 311.0,159.8 310.0,157.4 309.0,154.9 308.0,152.4 307.0,149.9 306.0,147.5 305.0,145.1 304.0,143.0 303.0,141.1 302.0,139.6 301.0,138.4 300.0,137.6 299.0,137.2 298.0,137.3 297.0,137.5 296.0,137.7 295.0,137.9 294.0,138.1" fill="#eaa2a4" opacity="0.9"/>
<polygon points="365.0,338.0 366.0,336.7 367.0,335.3 368.0,333.7 369.0,332.0 370.0,330.1 371.0,328.2 372.0,326.1 373.0,323.9 374.0,321.7 375.0,319.6 376.0,317.6 377.0,315.7 378.0,313.9 379.0,312.3 380.0,310.9 381.0,309.5 382.0,308.3 383.0,307.2 384.0,306.3 385.0,305.4 386.0,304.8 387.0,304.2 388.0,303.7 389.0,303.2 390.0,302.8 391.0,302.4 392.0,302.0 393.0,301.7 394.0,301.4 395.0,301.1 396.0,300.8 397.0,300.6 398.0,300.4 399.0,300.2 400.0,300.0 401.0,299.8 402.0,299.7 403.0,299.6 404.0,299.4 405.0,299.3 406.0,299.2 407.0,299.1 408.0,299.1 409.0,299.0 410.0,299.0 411.0,299.0 412.0,299.0 413.0,299.0 414.0,299.0 415.0,299.1 415.0,299.2 414.0,299.3 413.0,299.4 412.0,299.5 411.0,299.7 410.0,299.8 409.0,300.0 408.0,300.2 407.0,300.4 406.0,300.6 405.0,300.9 404.0,301.2 403.0,301.4 402.0,301.7 401.0,302.1 400.0,302.4 399.0,302.9 398.0,303.3 397.0,303.8 396.0,304.3 395.0,304.9 394.0,305.6 393.0,306.4 392.0,307.4 391.0,308.5 390.0,309.8 389.0,311.1 388.0,312.6 387.0,314.3 386.0,316.0 385.0,317.9 384.0,320.0 383.0,322.1 382.0,324.3 381.0,326.5 380.0,328.6 379.0,330.5 378.0,332.4 377.0,334.1 376.0,335.6 375.0,336.9 374.0,338.2 373.0,339.4 372.0,340.5 371.0,341.2 370.0,341.7 369.0,342.1 368.0,342.1 367.0,341.8 366.0,341.1 365.0,340.0" fill="#8ac8bb" opacity="0.9"/>
<polygon points="416.0,299.2 417.0,299.4 418.0,299.5 419.0,299.7 420.0,300.0 421.0,300.2 422.0,300.5 423.0,300.9 424.0,301.3 425.0,301.8 426.0,302.4 427.0,303.1 428.0,303.9 429.0,304.6 430.0,305.4 431.0,306.2 432.0,307.1 433.0,308.0 434.0,308.9 435.0,309.9 436.0,311.0 437.0,312.1 438.0,313.2 439.0,314.3 440.0,315.4 441.0,316.5 442.0,317.6 443.0,318.6 444.0,319.7 445.0,320.7 446.0,321.7 447.0,322.7 448.0,323.7 449.0,324.6 450.0,325.5 451.0,326.4 452.0,327.2 453.0,327.9 454.0,328.5 455.0,328.9 456.0,329.2 457.0,329.3 458.0,329.3 459.0,329.0 460.0,328.5 460.0,327.7 459.0,326.9 458.0,326.1 457.0,325.2 456.0,324.3 455.0,323.3 454.0,322.3 453.0,321.3 452.0,320.3 451.0,319.3 450.0,318.2 449.0,317.2 448.0,316.1 447.0,315.0 446.0,313.9 445.0,312.8 444.0,311.7 443.0,310.6 442.0,309.6 441.0,308.6 440.0,307.7 439.0,306.8 438.0,305.9 437.0,305.1 436.0,304.4 435.0,303.6 434.0,302.9 433.0,302.2 432.0,301.6 431.0,301.1 430.0,300.7 429.0,300.4 428.0,300.1 427.0,299.8 426.0,299.6 425.0,299.4 424.0,299.3 423.0,299.1 422.0,299.0 421.0,299.0 420.0,299.0 419.0,299.0 418.0,299.0 417.0,299.1 416.0,299.1" fill="#eaa2a4" opacity="0.9"/>
<polygon points="461.0,327.9 462.0,327.0 463.0,325.9 464.0,324.5 465.0,323.1 466.0,321.6 467.0,320.0 468.0,318.2 469.0,316.3 470.0,314.3 471.0,312.2 472.0,310.2 473.0,308.2 474.0,306.4 475.0,304.7 476.0,303.0 477.0,301.5 478.0,300.1 479.0,298.8 480.0,297.5 481.0,296.4 482.0,295.3 483.0,294.3 484.0,293.4 485.0,292.7 486.0,292.0 487.0,291.5 488.0,291.0 489.0,290.7 490.0,290.5 491.0,290.4 492.0,290.4 493.0,290.5 494.0,290.7 495.0,291.2 495.0,291.6 494.0,292.2 493.0,292.9 492.0,293.6 491.0,294.6 490.0,295.6 489.0,296.7 488.0,297.9 487.0,299.1 486.0,300.5 485.0,301.9 484.0,303.5 483.0,305.1 482.0,306.9 481.0,308.8 480.0,310.7 479.0,312.8 478.0,314.8 477.0,316.8 476.0,318.7 475.0,320.4 474.0,322.0 473.0,323.5 472.0,324.7 471.0,325.9 470.0,326.9 469.0,327.8 468.0,328.4 467.0,329.0 466.0,329.3 465.0,329.4 464.0,329.3 463.0,329.1 462.0,328.8 461.0,328.3" fill="#8ac8bb" opacity="0.9"/>
<polygon points="496.0,291.7 497.0,292.4 498.0,293.4 499.0,294.6 500.0,296.1 501.0,297.7 502.0,299.4 503.0,301.0 504.0,302.8 505.0,304.6 506.0,306.6 507.0,308.5 508.0,310.6 509.0,312.7 510.0,314.8 511.0,316.9 512.0,319.2 513.0,321.5 514.0,323.9 515.0,326.4 516.0,329.0 517.0,331.5 518.0,334.1 519.0,336.5 520.0,338.8 521.0,341.0 522.0,343.2 523.0,345.1 524.0,346.9 525.0,348.6 526.0,350.2 527.0,351.6 528.0,352.9 529.0,354.1 530.0,355.2 531.0,356.3 532.0,357.4 533.0,358.4 534.0,359.3 535.0,360.3 536.0,361.2 537.0,362.0 538.0,363.0 539.0,364.0 540.0,365.1 541.0,366.3 542.0,367.6 543.0,368.9 544.0,370.4 545.0,371.9 546.0,373.4 547.0,374.9 548.0,376.4 549.0,377.8 550.0,379.2 551.0,380.5 552.0,381.8 553.0,383.1 554.0,384.3 555.0,385.5 556.0,386.7 557.0,387.9 558.0,389.1 559.0,390.2 560.0,391.3 561.0,392.3 562.0,393.3 563.0,394.3 564.0,395.2 565.0,396.0 566.0,396.9 567.0,397.6 568.0,398.3 569.0,399.0 570.0,399.5 571.0,399.9 572.0,400.2 573.0,400.2 574.0,400.2 575.0,399.9 576.0,399.3 577.0,399.1 577.0,398.6 576.0,397.5 575.0,396.7 574.0,395.8 573.0,395.0 572.0,394.1 571.0,393.1 570.0,392.1 569.0,391.1 568.0,390.0 567.0,388.9 566.0,387.7 565.0,386.5 564.0,385.3 563.0,384.1 562.0,382.9 561.0,381.6 560.0,380.3 559.0,378.9 558.0,377.5 557.0,376.1 556.0,374.6 555.0,373.1 554.0,371.6 553.0,370.1 552.0,368.7 551.0,367.3 550.0,366.0 549.0,364.8 548.0,363.8 547.0,362.8 546.0,361.8 545.0,361.0 544.0,360.1 543.0,359.1 542.0,358.2 541.0,357.2 540.0,356.1 539.0,355.0 538.0,353.9 537.0,352.7 536.0,351.3 535.0,349.9 534.0,348.3 533.0,346.6 532.0,344.8 531.0,342.7 530.0,340.6 529.0,338.3 528.0,336.0 527.0,333.6 526.0,331.0 525.0,328.4 524.0,325.9 523.0,323.4 522.0,321.1 521.0,318.7 520.0,316.5 519.0,314.3 518.0,312.2 517.0,310.1 516.0,308.1 515.0,306.2 514.0,304.3 513.0,302.5 512.0,300.7 511.0,299.1 510.0,297.5 509.0,296.1 508.0,294.8 507.0,293.6 506.0,292.7 505.0,291.9 504.0,291.3 503.0,290.8 502.0,290.5 501.0,290.4 500.0,290.4 499.0,290.4 498.0,290.5 497.0,290.7 496.0,291.1" fill="#eaa2a4" opacity="0.9"/>
<polygon points="578.0,398.7 579.0,398.4 580.0,397.3 581.0,396.1 582.0,394.6 583.0,393.0 584.0,391.2 585.0,389.3 586.0,387.3 587.0,385.1 588.0,382.8 589.0,380.6 590.0,378.4 591.0,376.2 592.0,374.1 593.0,372.2 594.0,370.6 595.0,369.2 596.0,368.0 597.0,367.0 598.0,366.2 599.0,365.5 600.0,365.1 601.0,365.1 602.0,365.4 603.0,365.7 604.0,366.1 605.0,366.5 605.0,366.8 604.0,367.7 603.0,368.9 602.0,370.3 601.0,370.9 600.0,371.6 599.0,372.4 598.0,373.1 597.0,375.1 596.0,377.3 595.0,379.5 594.0,381.7 593.0,384.0 592.0,386.3 591.0,388.4 590.0,390.3 589.0,392.1 588.0,393.9 587.0,395.4 586.0,396.8 585.0,397.9 584.0,398.8 583.0,399.6 582.0,400.0 581.0,400.2 580.0,400.2 579.0,400.1 578.0,399.5" fill="#8ac8bb" opacity="0.9"/>
<polygon points="606.0,367.0 607.0,367.5 608.0,368.2 609.0,368.9 610.0,369.7 611.0,370.7 612.0,371.8 613.0,372.9 614.0,374.2 615.0,375.6 616.0,377.0 617.0,378.5 618.0,380.0 619.0,381.7 620.0,383.4 621.0,385.1 622.0,386.9 623.0,388.6 624.0,390.2 625.0,391.9 626.0,393.5 627.0,395.1 628.0,396.6 629.0,398.1 630.0,399.6 631.0,401.1 632.0,402.6 633.0,404.1 634.0,405.6 635.0,407.2 636.0,408.8 637.0,410.4 638.0,412.0 639.0,413.6 640.0,415.2 641.0,416.8 642.0,418.4 643.0,420.0 644.0,421.6 645.0,423.2 646.0,424.8 647.0,426.3 648.0,427.9 649.0,429.4 650.0,430.9 651.0,432.3 652.0,433.7 653.0,434.9 654.0,436.2 655.0,437.3 656.0,438.4 657.0,439.4 658.0,440.5 659.0,441.6 660.0,442.7 661.0,443.8 662.0,444.8 663.0,445.9 664.0,447.0 665.0,448.0 666.0,449.0 667.0,450.0 668.0,451.1 669.0,452.1 670.0,453.1 671.0,454.1 672.0,455.1 673.0,456.1 674.0,457.1 675.0,458.2 676.0,459.5 677.0,460.8 678.0,462.3 679.0,464.0 680.0,465.7 681.0,467.6 682.0,469.5 683.0,471.4 684.0,473.4 685.0,475.3 686.0,477.4 687.0,479.4 688.0,481.5 689.0,483.6 690.0,485.8 691.0,487.9 692.0,490.2 693.0,492.5 694.0,494.9 695.0,497.4 696.0,499.9 697.0,502.4 698.0,504.9 699.0,507.2 700.0,509.4 701.0,511.5 702.0,513.4 703.0,515.2 704.0,517.0 705.0,518.7 706.0,520.3 707.0,522.0 708.0,523.7 709.0,525.3 710.0,527.0 711.0,528.6 712.0,530.2 713.0,531.8 714.0,533.3 715.0,534.8 716.0,536.2 717.0,537.5 718.0,538.8 719.0,540.1 720.0,541.3 721.0,542.4 722.0,543.4 723.0,544.3 724.0,545.0 725.0,545.6 726.0,546.0 727.0,546.2 728.0,546.3 729.0,546.3 730.0,546.1 731.0,546.1 732.0,546.0 733.0,545.9 733.0,545.6 732.0,544.5 731.0,543.0 730.0,541.2 729.0,539.9 728.0,538.7 727.0,537.4 726.0,536.0 725.0,534.6 724.0,533.1 723.0,531.6 722.0,530.0 721.0,528.4 720.0,526.8 719.0,525.1 718.0,523.5 717.0,521.8 716.0,520.1 715.0,518.5 714.0,516.8 713.0,515.0 712.0,513.2 711.0,511.2 710.0,509.1 709.0,506.9 708.0,504.6 707.0,502.1 706.0,499.6 705.0,497.1 704.0,494.6 703.0,492.2 702.0,489.9 701.0,487.7 700.0,485.5 699.0,483.4 698.0,481.2 697.0,479.2 696.0,477.1 695.0,475.1 694.0,473.1 693.0,471.2 692.0,469.3 691.0,467.4 690.0,465.5 689.0,463.8 688.0,462.2 687.0,460.7 686.0,459.3 685.0,458.1 684.0,456.9 683.0,455.9 682.0,454.9 681.0,453.9 680.0,452.9 679.0,451.9 678.0,450.9 677.0,449.9 676.0,448.9 675.0,447.9 674.0,446.8 673.0,445.8 672.0,444.7 671.0,443.6 670.0,442.6 669.0,441.5 668.0,440.4 667.0,439.3 666.0,438.2 665.0,437.2 664.0,436.0 663.0,434.8 662.0,433.5 661.0,432.2 660.0,430.7 659.0,429.2 658.0,427.7 657.0,426.1 656.0,424.6 655.0,423.0 654.0,421.4 653.0,419.8 652.0,418.2 651.0,416.6 650.0,415.0 649.0,413.4 648.0,411.8 647.0,410.2 646.0,408.6 645.0,407.0 644.0,405.5 643.0,403.9 642.0,402.4 641.0,400.9 640.0,399.4 639.0,397.9 638.0,396.4 637.0,394.9 636.0,393.3 635.0,391.7 634.0,390.0 633.0,388.4 632.0,386.6 631.0,384.9 630.0,383.1 629.0,381.5 628.0,379.9 627.0,378.3 626.0,376.8 625.0,375.4 624.0,374.1 623.0,372.8 622.0,371.6 621.0,370.6 620.0,369.6 619.0,368.8 618.0,368.1 617.0,367.5 616.0,367.0 615.0,366.5 614.0,366.1 613.0,365.7 612.0,365.4 611.0,365.2 610.0,365.1 609.0,365.1 608.0,365.3 607.0,365.7 606.0,366.1" fill="#eaa2a4" opacity="0.9"/>
<polygon points="734.0,545.8 735.0,545.7 736.0,545.3 737.0,544.8 738.0,544.3 739.0,543.7 740.0,543.1 741.0,542.6 742.0,542.0 743.0,541.4 744.0,540.8 745.0,540.2 746.0,539.6 747.0,538.9 748.0,538.3 749.0,537.7 750.0,537.0 751.0,536.3 752.0,535.6 753.0,534.9 754.0,534.2 755.0,533.5 756.0,532.8 757.0,532.2 758.0,531.5 759.0,530.8 760.0,530.2 761.0,529.5 762.0,528.9 763.0,528.3 764.0,527.7 765.0,527.1 766.0,526.7 767.0,526.3 768.0,525.9 769.0,525.6 770.0,525.5 771.0,525.4 772.0,525.4 772.0,525.6 771.0,525.8 770.0,526.2 769.0,526.6 768.0,527.0 767.0,527.5 766.0,528.1 765.0,528.7 764.0,529.4 763.0,530.0 762.0,530.7 761.0,531.3 760.0,532.0 759.0,532.7 758.0,533.4 757.0,534.1 756.0,534.8 755.0,535.5 754.0,536.2 753.0,536.8 752.0,537.5 751.0,538.2 750.0,538.8 749.0,539.4 748.0,540.0 747.0,540.6 746.0,541.2 745.0,541.8 744.0,542.4 743.0,543.0 742.0,543.6 741.0,544.1 740.0,544.7 739.0,545.2 738.0,545.6 737.0,546.0 736.0,546.2 735.0,546.3 734.0,546.2" fill="#8ac8bb" opacity="0.9"/>
<polygon points="773.0,525.5 774.0,525.7 775.0,525.9 776.0,526.3 777.0,526.6 778.0,527.0 779.0,527.5 780.0,527.9 781.0,528.4 782.0,528.9 783.0,529.5 784.0,530.1 785.0,530.7 786.0,531.4 787.0,531.9 788.0,532.5 789.0,533.0 790.0,533.5 791.0,534.0 792.0,534.4 793.0,534.8 794.0,535.2 795.0,535.4 796.0,535.5 797.0,535.6 798.0,535.6 798.0,535.4 797.0,535.2 796.0,534.9 795.0,534.6 794.0,534.1 793.0,533.6 792.0,533.1 791.0,532.6 790.0,532.1 789.0,531.5 788.0,530.9 787.0,530.3 786.0,529.7 785.0,529.1 784.0,528.5 783.0,528.0 782.0,527.6 781.0,527.1 780.0,526.7 779.0,526.4 778.0,526.0 777.0,525.7 776.0,525.6 775.0,525.4 774.0,525.4 773.0,525.4" fill="#eaa2a4" opacity="0.9"/>
<polygon points="799.0,535.4 800.0,535.2 801.0,534.9 802.0,534.7 803.0,534.3 804.0,534.0 805.0,533.6 806.0,533.1 807.0,532.7 808.0,532.2 809.0,531.8 810.0,531.3 811.0,530.8 812.0,530.3 813.0,529.8 814.0,529.3 815.0,528.8 816.0,528.3 817.0,527.8 818.0,527.3 819.0,526.8 820.0,526.3 821.0,525.8 822.0,525.3 823.0,524.9 824.0,524.4 825.0,524.0 826.0,523.7 827.0,523.3 828.0,523.0 829.0,522.8 830.0,522.6 831.0,522.4 832.0,522.3 833.0,522.3 834.0,522.3 834.0,522.4 833.0,522.5 832.0,522.7 831.0,523.0 830.0,523.3 829.0,523.6 828.0,523.9 827.0,524.3 826.0,524.8 825.0,525.2 824.0,525.7 823.0,526.2 822.0,526.7 821.0,527.2 820.0,527.7 819.0,528.2 818.0,528.7 817.0,529.2 816.0,529.7 815.0,530.2 814.0,530.7 813.0,531.2 812.0,531.6 811.0,532.1 810.0,532.6 809.0,533.0 808.0,533.4 807.0,533.9 806.0,534.2 805.0,534.6 804.0,534.9 803.0,535.1 802.0,535.4 801.0,535.5 800.0,535.6 799.0,535.5" fill="#8ac8bb" opacity="0.9"/>
<polygon points="835.0,522.5 836.0,522.8 837.0,523.2 838.0,523.7 839.0,524.9 840.0,526.6 841.0,528.7 842.0,531.2 843.0,532.9 844.0,534.6 845.0,536.4 846.0,538.2 847.0,540.2 848.0,542.2 849.0,544.2 850.0,546.2 851.0,548.2 852.0,550.2 853.0,552.2 854.0,554.3 855.0,556.4 856.0,558.6 857.0,560.8 858.0,563.1 859.0,565.4 860.0,567.9 861.0,570.4 862.0,573.0 863.0,575.7 864.0,578.4 865.0,581.2 866.0,584.1 867.0,587.0 868.0,589.9 869.0,592.8 870.0,595.8 871.0,598.9 872.0,602.0 873.0,605.3 874.0,608.6 875.0,612.0 876.0,615.6 877.0,619.2 878.0,622.9 879.0,626.5 880.0,630.2 881.0,633.9 882.0,637.5 883.0,641.1 884.0,644.5 885.0,647.7 886.0,650.7 887.0,653.6 888.0,656.2 889.0,658.7 890.0,661.1 891.0,663.4 892.0,665.5 893.0,667.5 894.0,669.5 895.0,671.3 896.0,672.9 897.0,674.4 898.0,675.8 899.0,677.0 900.0,678.2 901.0,679.2 902.0,680.1 903.0,680.9 904.0,681.7 905.0,682.4 906.0,683.1 907.0,683.8 908.0,684.5 909.0,685.1 910.0,685.7 911.0,686.2 912.0,686.6 913.0,686.9 914.0,687.1 915.0,687.3 916.0,687.5 917.0,687.6 918.0,687.7 919.0,687.7 920.0,687.7 921.0,687.6 922.0,687.5 923.0,687.3 924.0,687.1 924.0,686.8 923.0,686.4 922.0,686.0 921.0,685.6 920.0,685.1 919.0,684.6 918.0,684.1 917.0,683.5 916.0,682.9 915.0,682.2 914.0,681.4 913.0,680.6 912.0,679.8 911.0,679.0 910.0,678.2 909.0,677.3 908.0,676.3 907.0,675.3 906.0,674.1 905.0,672.6 904.0,670.9 903.0,669.1 902.0,667.1 901.0,665.1 900.0,662.9 899.0,660.6 898.0,658.3 897.0,655.7 896.0,653.0 895.0,650.1 894.0,647.1 893.0,643.8 892.0,640.4 891.0,636.8 890.0,633.1 889.0,629.5 888.0,625.8 887.0,622.1 886.0,618.5 885.0,614.9 884.0,611.3 883.0,607.9 882.0,604.6 881.0,601.4 880.0,598.2 879.0,595.2 878.0,592.3 877.0,589.3 876.0,586.4 875.0,583.5 874.0,580.6 873.0,577.8 872.0,575.1 871.0,572.5 870.0,569.9 869.0,567.4 868.0,565.0 867.0,562.6 866.0,560.4 865.0,558.2 864.0,556.0 863.0,553.9 862.0,551.8 861.0,549.8 860.0,547.8 859.0,545.8 858.0,543.8 857.0,541.8 856.0,539.8 855.0,537.9 854.0,536.0 853.0,534.2 852.0,532.5 851.0,530.9 850.0,529.5 849.0,528.2 848.0,527.0 847.0,526.0 846.0,525.1 845.0,524.3 844.0,523.7 843.0,523.2 842.0,522.8 841.0,522.7 840.0,522.7 839.0,522.6 838.0,522.6 837.0,522.3 836.0,522.3 835.0,522.3" fill="#eaa2a4" opacity="0.9"/>
<polygon points="925.0,686.8 926.0,686.5 927.0,686.1 928.0,685.7 929.0,685.2 930.0,684.6 931.0,683.9 932.0,683.2 933.0,682.4 934.0,681.6 935.0,680.8 936.0,679.9 937.0,679.0 938.0,678.0 939.0,676.9 940.0,675.8 941.0,674.7 942.0,673.5 943.0,672.3 944.0,671.1 945.0,669.8 946.0,668.5 947.0,667.2 948.0,665.8 949.0,664.5 950.0,663.1 951.0,661.7 952.0,660.3 953.0,658.9 954.0,657.5 955.0,656.1 956.0,654.6 957.0,653.2 958.0,651.8 959.0,650.5 960.0,649.1 961.0,647.8 962.0,646.4 963.0,645.1 964.0,643.8 965.0,642.5 966.0,641.2 967.0,639.9 968.0,638.5 969.0,637.1 970.0,635.7 971.0,634.2 972.0,632.7 973.0,631.1 974.0,629.6 975.0,628.2 976.0,626.8 977.0,625.6 978.0,624.4 979.0,623.3 980.0,622.2 981.0,621.2 982.0,620.3 983.0,619.4 984.0,618.5 985.0,617.6 986.0,616.8 987.0,616.0 988.0,615.3 989.0,614.6 990.0,614.0 991.0,613.5 992.0,613.0 993.0,612.5 994.0,612.1 995.0,611.8 996.0,611.6 997.0,611.4 998.0,611.3 999.0,611.2 1000.0,611.2 1001.0,611.3 1002.0,611.5 1003.0,611.6 1004.0,611.8 1004.0,612.4 1003.0,613.0 1002.0,613.7 1001.0,614.3 1000.0,615.0 999.0,615.7 998.0,616.4 997.0,617.2 996.0,618.0 995.0,618.9 994.0,619.8 993.0,620.8 992.0,621.8 991.0,622.8 990.0,623.8 989.0,625.0 988.0,626.2 987.0,627.5 986.0,628.9 985.0,630.3 984.0,631.9 983.0,633.4 982.0,634.9 981.0,636.4 980.0,637.8 979.0,639.2 978.0,640.6 977.0,641.9 976.0,643.2 975.0,644.5 974.0,645.8 973.0,647.1 972.0,648.4 971.0,649.8 970.0,651.1 969.0,652.5 968.0,653.9 967.0,655.4 966.0,656.8 965.0,658.2 964.0,659.6 963.0,661.0 962.0,662.4 961.0,663.8 960.0,665.2 959.0,666.5 958.0,667.9 957.0,669.2 956.0,670.5 955.0,671.7 954.0,672.9 953.0,674.1 952.0,675.2 951.0,676.3 950.0,677.4 949.0,678.5 948.0,679.4 947.0,680.4 946.0,681.2 945.0,682.0 944.0,682.8 943.0,683.6 942.0,684.3 941.0,684.9 940.0,685.4 939.0,685.9 938.0,686.3 937.0,686.7 936.0,686.9 935.0,687.2 934.0,687.4 933.0,687.6 932.0,687.7 931.0,687.7 930.0,687.7 929.0,687.6 928.0,687.5 927.0,687.4 926.0,687.2 925.0,687.0" fill="#8ac8bb" opacity="0.9"/>
<polygon points="1005.0,611.9 1006.0,612.3 1007.0,612.6 1008.0,613.1 1009.0,613.6 1010.0,614.2 1011.0,614.9 1012.0,615.8 1013.0,616.6 1014.0,617.6 1015.0,618.6 1016.0,619.7 1017.0,620.9 1018.0,622.0 1019.0,623.3 1020.0,624.6 1021.0,625.9 1022.0,627.3 1023.0,628.6 1024.0,629.9 1025.0,631.0 1026.0,632.0 1027.0,632.9 1028.0,633.7 1029.0,634.3 1030.0,634.9 1031.0,635.3 1032.0,635.6 1033.0,635.8 1034.0,635.9 1035.0,635.7 1036.0,635.5 1037.0,635.0 1038.0,634.5 1038.0,634.2 1037.0,633.5 1036.0,632.7 1035.0,631.8 1034.0,630.8 1033.0,629.6 1032.0,628.4 1031.0,627.1 1030.0,625.7 1029.0,624.3 1028.0,623.0 1027.0,621.8 1026.0,620.6 1025.0,619.5 1024.0,618.4 1023.0,617.4 1022.0,616.5 1021.0,615.6 1020.0,614.8 1019.0,614.1 1018.0,613.5 1017.0,612.9 1016.0,612.5 1015.0,612.2 1014.0,611.9 1013.0,611.6 1012.0,611.5 1011.0,611.3 1010.0,611.2 1009.0,611.2 1008.0,611.3 1007.0,611.5 1006.0,611.6 1005.0,611.9" fill="#eaa2a4" opacity="0.9"/>
<polygon points="1039.0,633.8 1040.0,633.0 1041.0,632.0 1042.0,631.0 1043.0,630.2 1044.0,629.3 1045.0,628.4 1046.0,627.4 1047.0,626.4 1048.0,625.0 1049.0,623.5 1050.0,621.9 1051.0,620.4 1052.0,618.7 1053.0,617.1 1054.0,615.4 1055.0,613.6 1056.0,611.8 1057.0,610.0 1058.0,608.1 1059.0,606.2 1060.0,604.4 1061.0,602.6 1062.0,600.9 1063.0,599.2 1064.0,597.5 1065.0,595.9 1066.0,594.4 1067.0,592.9 1068.0,591.5 1069.0,590.1 1070.0,588.8 1071.0,587.6 1072.0,586.4 1073.0,585.3 1074.0,584.1 1075.0,583.1 1076.0,582.2 1077.0,581.4 1078.0,580.6 1079.0,580.0 1080.0,579.4 1081.0,578.9 1082.0,578.4 1083.0,578.0 1084.0,577.6 1085.0,577.2 1086.0,577.0 1087.0,576.7 1088.0,576.5 1089.0,576.4 1090.0,576.3 1091.0,576.3 1092.0,576.3 1093.0,576.3 1094.0,576.4 1094.0,576.6 1093.0,576.8 1092.0,577.0 1091.0,577.4 1090.0,577.7 1089.0,578.1 1088.0,578.6 1087.0,579.1 1086.0,579.6 1085.0,580.2 1084.0,580.9 1083.0,581.7 1082.0,582.6 1081.0,583.6 1080.0,584.6 1079.0,585.7 1078.0,586.9 1077.0,588.1 1076.0,589.4 1075.0,590.7 1074.0,592.1 1073.0,593.5 1072.0,595.1 1071.0,596.6 1070.0,598.3 1069.0,599.9 1068.0,601.6 1067.0,603.4 1066.0,605.2 1065.0,607.0 1064.0,608.9 1063.0,610.8 1062.0,612.6 1061.0,614.4 1060.0,616.1 1059.0,617.8 1058.0,619.5 1057.0,621.1 1056.0,622.6 1055.0,624.1 1054.0,625.6 1053.0,627.0 1052.0,628.4 1051.0,629.6 1050.0,630.8 1049.0,631.8 1048.0,632.8 1047.0,633.7 1046.0,634.6 1045.0,635.2 1044.0,635.7 1043.0,635.9 1042.0,635.8 1041.0,635.5 1040.0,635.2 1039.0,634.8" fill="#8ac8bb" opacity="0.9"/>
<polygon points="1095.0,576.6 1096.0,576.8 1097.0,577.0 1098.0,577.2 1099.0,577.4 1100.0,577.6 1101.0,577.8 1102.0,578.1 1103.0,578.4 1104.0,578.8 1105.0,579.2 1106.0,579.6 1107.0,580.1 1108.0,580.5 1109.0,581.0 1110.0,581.6 1111.0,582.1 1112.0,582.7 1113.0,583.4 1114.0,584.0 1115.0,584.6 1116.0,585.2 1117.0,585.8 1118.0,586.3 1119.0,586.9 1120.0,587.4 1121.0,587.9 1122.0,588.4 1123.0,588.8 1124.0,589.3 1125.0,589.7 1126.0,590.0 1127.0,590.3 1128.0,590.5 1129.0,590.6 1130.0,590.7 1131.0,590.6 1132.0,590.6 1132.0,590.1 1131.0,589.8 1130.0,589.5 1129.0,589.1 1128.0,588.6 1127.0,588.1 1126.0,587.6 1125.0,587.1 1124.0,586.6 1123.0,586.0 1122.0,585.5 1121.0,584.9 1120.0,584.3 1119.0,583.6 1118.0,583.0 1117.0,582.4 1116.0,581.8 1115.0,581.3 1114.0,580.8 1113.0,580.3 1112.0,579.8 1111.0,579.4 1110.0,579.0 1109.0,578.6 1108.0,578.3 1107.0,578.0 1106.0,577.7 1105.0,577.5 1104.0,577.2 1103.0,577.0 1102.0,576.8 1101.0,576.6 1100.0,576.5 1099.0,576.4 1098.0,576.3 1097.0,576.3 1096.0,576.3 1095.0,576.4" fill="#eaa2a4" opacity="0.9"/>
<polygon points="1133.0,590.4 1134.0,590.1 1135.0,589.7 1136.0,589.3 1137.0,588.9 1138.0,588.3 1139.0,587.8 1140.0,587.2 1141.0,586.6 1142.0,586.0 1143.0,585.4 1144.0,584.9 1145.0,584.3 1146.0,583.6 1147.0,583.0 1148.0,582.3 1149.0,581.5 1150.0,580.8 1151.0,580.0 1152.0,579.2 1153.0,578.4 1154.0,577.6 1155.0,576.8 1156.0,576.1 1157.0,575.4 1158.0,574.7 1159.0,574.0 1160.0,573.4 1161.0,572.9 1162.0,572.3 1163.0,571.9 1164.0,571.5 1165.0,571.1 1166.0,571.0 1167.0,570.9 1168.0,571.1 1169.0,571.4 1169.0,571.7 1168.0,572.1 1167.0,572.6 1166.0,573.1 1165.0,573.7 1164.0,574.4 1163.0,575.0 1162.0,575.7 1161.0,576.5 1160.0,577.2 1159.0,578.0 1158.0,578.8 1157.0,579.6 1156.0,580.4 1155.0,581.2 1154.0,581.9 1153.0,582.6 1152.0,583.3 1151.0,584.0 1150.0,584.6 1149.0,585.1 1148.0,585.7 1147.0,586.3 1146.0,586.9 1145.0,587.5 1144.0,588.1 1143.0,588.6 1142.0,589.1 1141.0,589.6 1140.0,589.9 1139.0,590.3 1138.0,590.5 1137.0,590.6 1136.0,590.7 1135.0,590.6 1134.0,590.6 1133.0,590.4" fill="#8ac8bb" opacity="0.9"/>
<polygon points="1170.0,571.8 1171.0,572.6 1172.0,573.8 1173.0,575.0 1174.0,576.0 1175.0,577.1 1176.0,578.3 1177.0,579.5 1178.0,580.8 1179.0,582.2 1180.0,583.6 1181.0,585.0 1182.0,586.5 1183.0,588.1 1184.0,589.6 1185.0,591.2 1186.0,592.9 1187.0,594.5 1188.0,596.1 1189.0,597.7 1190.0,599.2 1191.0,600.7 1192.0,602.2 1193.0,603.6 1194.0,605.0 1195.0,606.4 1196.0,607.9 1197.0,609.3 1198.0,610.7 1199.0,612.2 1200.0,613.6 1201.0,615.0 1202.0,616.3 1203.0,617.5 1204.0,618.7 1205.0,619.8 1206.0,620.9 1207.0,621.9 1208.0,622.8 1209.0,623.7 1210.0,624.5 1211.0,625.2 1212.0,625.9 1213.0,626.4 1214.0,626.9 1215.0,627.1 1216.0,627.3 1217.0,627.4 1218.0,627.3 1219.0,627.0 1220.0,626.6 1220.0,626.0 1219.0,625.3 1218.0,624.6 1217.0,623.9 1216.0,623.0 1215.0,622.1 1214.0,621.1 1213.0,620.0 1212.0,618.9 1211.0,617.7 1210.0,616.5 1209.0,615.2 1208.0,613.8 1207.0,612.4 1206.0,611.0 1205.0,609.6 1204.0,608.1 1203.0,606.7 1202.0,605.3 1201.0,603.8 1200.0,602.4 1199.0,601.0 1198.0,599.5 1197.0,597.9 1196.0,596.4 1195.0,594.8 1194.0,593.1 1193.0,591.5 1192.0,589.9 1191.0,588.3 1190.0,586.8 1189.0,585.3 1188.0,583.8 1187.0,582.4 1186.0,581.0 1185.0,579.7 1184.0,578.5 1183.0,577.3 1182.0,576.2 1181.0,575.1 1180.0,574.2 1179.0,573.4 1178.0,572.6 1177.0,572.0 1176.0,571.5 1175.0,571.2 1174.0,571.0 1173.0,570.9 1172.0,571.0 1171.0,571.1 1170.0,571.3" fill="#eaa2a4" opacity="0.9"/>
<polygon points="1221.0,626.0 1222.0,625.6 1223.0,625.2 1224.0,624.7 1225.0,623.9 1226.0,623.0 1227.0,622.1 1228.0,621.1 1229.0,620.2 1230.0,619.2 1231.0,618.2 1232.0,617.2 1233.0,616.2 1234.0,615.2 1235.0,614.3 1236.0,613.3 1237.0,612.3 1238.0,611.4 1239.0,610.5 1240.0,609.6 1241.0,608.7 1242.0,607.8 1243.0,607.0 1244.0,606.2 1245.0,605.5 1246.0,604.8 1247.0,604.5 1248.0,604.1 1249.0,603.8 1250.0,603.5 1251.0,603.2 1252.0,602.9 1253.0,602.4 1254.0,601.9 1255.0,601.4 1256.0,601.0 1257.0,600.5 1258.0,600.0 1259.0,599.6 1260.0,599.1 1261.0,598.7 1262.0,598.3 1263.0,597.8 1264.0,597.3 1265.0,596.9 1266.0,596.4 1267.0,595.9 1268.0,595.4 1269.0,594.9 1270.0,594.4 1271.0,593.9 1272.0,593.4 1273.0,592.9 1274.0,592.4 1275.0,591.8 1276.0,591.3 1277.0,590.7 1278.0,590.1 1279.0,589.5 1280.0,588.9 1281.0,588.3 1282.0,587.7 1283.0,587.1 1284.0,586.6 1285.0,586.1 1286.0,585.6 1287.0,585.1 1288.0,584.7 1289.0,584.3 1290.0,583.9 1291.0,583.5 1292.0,583.1 1293.0,582.8 1294.0,582.4 1295.0,582.1 1296.0,581.8 1297.0,581.6 1298.0,581.4 1299.0,581.2 1300.0,581.0 1301.0,580.8 1302.0,580.6 1303.0,580.4 1304.0,580.2 1305.0,580.1 1306.0,579.9 1307.0,579.8 1308.0,579.7 1309.0,579.6 1310.0,579.5 1311.0,579.4 1312.0,579.3 1313.0,579.2 1314.0,579.1 1315.0,578.9 1316.0,578.8 1317.0,578.7 1318.0,578.5 1319.0,578.4 1320.0,578.3 1321.0,578.1 1322.0,578.0 1323.0,577.7 1324.0,577.4 1325.0,577.1 1326.0,576.7 1327.0,576.2 1328.0,575.7 1329.0,575.3 1330.0,574.8 1331.0,574.2 1332.0,573.6 1333.0,572.9 1334.0,572.0 1335.0,570.9 1336.0,569.7 1337.0,568.3 1338.0,566.8 1339.0,565.0 1340.0,563.0 1341.0,560.9 1342.0,558.7 1343.0,556.4 1344.0,554.0 1345.0,551.7 1346.0,549.4 1347.0,547.2 1348.0,545.1 1349.0,543.0 1350.0,541.1 1351.0,539.1 1352.0,537.3 1353.0,535.6 1354.0,533.9 1355.0,532.4 1356.0,530.9 1357.0,529.5 1358.0,528.2 1359.0,526.9 1360.0,525.8 1361.0,524.8 1362.0,523.9 1363.0,523.0 1364.0,522.4 1365.0,521.9 1366.0,521.6 1367.0,521.4 1368.0,521.4 1369.0,521.5 1370.0,521.9 1371.0,522.4 1371.0,523.0 1370.0,523.6 1369.0,524.2 1368.0,525.1 1367.0,526.2 1366.0,527.3 1365.0,528.6 1364.0,530.0 1363.0,531.4 1362.0,532.9 1361.0,534.5 1360.0,536.2 1359.0,538.0 1358.0,539.8 1357.0,541.8 1356.0,543.8 1355.0,545.8 1354.0,548.0 1353.0,550.3 1352.0,552.5 1351.0,554.9 1350.0,557.2 1349.0,559.5 1348.0,561.7 1347.0,563.8 1346.0,565.7 1345.0,567.4 1344.0,568.8 1343.0,570.1 1342.0,571.3 1341.0,572.3 1340.0,573.1 1339.0,573.8 1338.0,574.4 1337.0,575.0 1336.0,575.4 1335.0,575.8 1334.0,576.2 1333.0,576.5 1332.0,576.7 1331.0,577.0 1330.0,577.2 1329.0,577.4 1328.0,577.6 1327.0,577.7 1326.0,577.7 1325.0,577.8 1324.0,577.9 1323.0,577.9 1322.0,578.0 1321.0,578.2 1320.0,578.3 1319.0,578.5 1318.0,578.6 1317.0,578.7 1316.0,578.9 1315.0,579.0 1314.0,579.1 1313.0,579.2 1312.0,579.3 1311.0,579.4 1310.0,579.5 1309.0,579.6 1308.0,579.7 1307.0,579.8 1306.0,580.0 1305.0,580.1 1304.0,580.3 1303.0,580.4 1302.0,580.6 1301.0,580.8 1300.0,581.0 1299.0,581.2 1298.0,581.4 1297.0,581.7 1296.0,581.9 1295.0,582.2 1294.0,582.5 1293.0,582.9 1292.0,583.3 1291.0,583.7 1290.0,584.1 1289.0,584.5 1288.0,584.9 1287.0,585.3 1286.0,585.8 1285.0,586.3 1284.0,586.8 1283.0,587.3 1282.0,587.9 1281.0,588.5 1280.0,589.1 1279.0,589.7 1278.0,590.3 1277.0,590.9 1276.0,591.5 1275.0,592.0 1274.0,592.6 1273.0,593.1 1272.0,593.6 1271.0,594.1 1270.0,594.6 1269.0,595.1 1268.0,595.6 1267.0,596.1 1266.0,596.6 1265.0,597.0 1264.0,597.5 1263.0,598.0 1262.0,598.4 1261.0,598.9 1260.0,599.3 1259.0,599.7 1258.0,600.2 1257.0,600.7 1256.0,601.1 1255.0,601.6 1254.0,602.1 1253.0,602.6 1252.0,603.1 1251.0,603.8 1250.0,604.7 1249.0,605.7 1248.0,606.7 1247.0,607.9 1246.0,609.2 1245.0,610.1 1244.0,611.0 1243.0,611.9 1242.0,612.8 1241.0,613.8 1240.0,614.8 1239.0,615.8 1238.0,616.8 1237.0,617.8 1236.0,618.7 1235.0,619.7 1234.0,620.7 1233.0,621.6 1232.0,622.6 1231.0,623.5 1230.0,624.4 1229.0,625.1 1228.0,625.8 1227.0,626.4 1226.0,626.9 1225.0,627.2 1224.0,627.3 1223.0,627.3 1222.0,627.0 1221.0,626.5" fill="#8ac8bb" opacity="0.9"/>
<polygon points="1372.0,523.0 1373.0,523.6 1374.0,524.3 1375.0,525.1 1376.0,525.8 1377.0,526.7 1378.0,527.6 1379.0,528.6 1380.0,529.6 1381.0,530.6 1382.0,531.6 1383.0,532.6 1384.0,533.8 1385.0,534.9 1386.0,536.2 1387.0,537.5 1388.0,538.9 1389.0,540.4 1390.0,541.9 1391.0,543.4 1392.0,544.9 1393.0,546.4 1394.0,547.8 1395.0,549.3 1396.0,550.7 1397.0,552.1 1398.0,553.6 1399.0,555.0 1400.0,556.3 1401.0,557.7 1402.0,559.0 1403.0,560.3 1404.0,561.6 1405.0,562.9 1406.0,564.2 1407.0,565.5 1408.0,566.7 1409.0,568.0 1410.0,569.2 1411.0,570.5 1412.0,571.7 1413.0,573.0 1414.0,574.3 1415.0,575.6 1416.0,577.0 1417.0,578.3 1418.0,579.7 1419.0,581.1 1420.0,582.6 1421.0,584.1 1422.0,585.6 1423.0,587.2 1424.0,588.9 1425.0,590.5 1426.0,592.1 1427.0,593.6 1428.0,595.1 1429.0,596.6 1430.0,598.0 1431.0,599.4 1432.0,600.8 1432.0,586.9 1431.0,585.3 1430.0,583.8 1429.0,582.3 1428.0,580.9 1427.0,579.4 1426.0,578.1 1425.0,576.7 1424.0,575.4 1423.0,574.0 1422.0,572.8 1421.0,571.5 1420.0,570.3 1419.0,569.0 1418.0,567.7 1417.0,566.5 1416.0,565.2 1415.0,563.9 1414.0,562.7 1413.0,561.4 1412.0,560.1 1411.0,558.8 1410.0,557.4 1409.0,556.1 1408.0,554.7 1407.0,553.3 1406.0,551.9 1405.0,550.4 1404.0,549.0 1403.0,547.5 1402.0,546.1 1401.0,544.6 1400.0,543.1 1399.0,541.6 1398.0,540.1 1397.0,538.6 1396.0,537.3 1395.0,535.9 1394.0,534.7 1393.0,533.5 1392.0,532.4 1391.0,531.4 1390.0,530.4 1389.0,529.4 1388.0,528.4 1387.0,527.4 1386.0,526.5 1385.0,525.7 1384.0,524.9 1383.0,524.2 1382.0,523.5 1381.0,522.9 1380.0,522.5 1379.0,522.0 1378.0,521.7 1377.0,521.5 1376.0,521.4 1375.0,521.5 1374.0,521.7 1373.0,522.0 1372.0,522.5" fill="#eaa2a4" opacity="0.9"/>
<rect x="18" y="351.0" width="1" height="31.0" fill="#f23645"/>
<rect x="17" y="363.0" width="3" height="16.0" fill="#f23645"/>
<rect x="22" y="354.0" width="1" height="35.5" fill="#089981"/>
<rect x="21" y="355.7" width="3" height="23.3" fill="#089981"/>
<rect x="26" y="340.0" width="1" height="28.0" fill="#f23645"/>
<rect x="25" y="356.0" width="3" height="4.0" fill="#f23645"/>
<rect x="30" y="335.0" width="1" height="27.0" fill="#089981"/>
<rect x="29" y="350.0" width="3" height="10.0" fill="#089981"/>
<rect x="35" y="334.0" width="1" height="18.0" fill="#089981"/>
<rect x="34" y="336.0" width="3" height="14.0" fill="#089981"/>
<rect x="39" y="325.0" width="1" height="15.0" fill="#089981"/>
<rect x="38" y="334.0" width="3" height="3.0" fill="#089981"/>
<rect x="43" y="309.0" width="1" height="28.0" fill="#089981"/>
<rect x="42" y="326.0" width="3" height="9.0" fill="#089981"/>
<rect x="47" y="318.0" width="1" height="31.0" fill="#f23645"/>
<rect x="46" y="326.0" width="3" height="19.0" fill="#f23645"/>
<rect x="51" y="289.0" width="1" height="57.0" fill="#089981"/>
<rect x="50" y="299.0" width="3" height="46.0" fill="#089981"/>
<rect x="55" y="281.0" width="1" height="25.0" fill="#089981"/>
<rect x="54" y="287.5" width="3" height="12.5" fill="#089981"/>
<rect x="60" y="259.0" width="1" height="37.0" fill="#089981"/>
<rect x="59" y="267.0" width="3" height="28.0" fill="#089981"/>
<rect x="64" y="259.0" width="1" height="20.0" fill="#f23645"/>
<rect x="63" y="267.0" width="3" height="8.0" fill="#f23645"/>
<rect x="68" y="239.0" width="1" height="42.0" fill="#089981"/>
<rect x="67" y="242.0" width="3" height="35.0" fill="#089981"/>
<rect x="72" y="236.0" width="1" height="45.0" fill="#f23645"/>
<rect x="71" y="244.0" width="3" height="32.0" fill="#f23645"/>
<rect x="76" y="209.0" width="1" height="83.0" fill="#089981"/>
<rect x="75" y="224.0" width="3" height="53.0" fill="#089981"/>
<rect x="80" y="212.0" width="1" height="28.0" fill="#f23645"/>
<rect x="79" y="224.0" width="3" height="2.0" fill="#f23645"/>
<rect x="85" y="204.0" width="1" height="22.0" fill="#089981"/>
<rect x="84" y="205.0" width="3" height="20.0" fill="#089981"/>
<rect x="89" y="203.0" width="1" height="8.0" fill="#f23645"/>
<rect x="88" y="205.0" width="3" height="5.0" fill="#f23645"/>
<rect x="93" y="200.0" width="1" height="32.0" fill="#f23645"/>
<rect x="92" y="210.0" width="3" height="21.0" fill="#f23645"/>
<rect x="97" y="229.0" width="1" height="12.0" fill="#f23645"/>
<rect x="96" y="230.0" width="3" height="5.0" fill="#f23645"/>
<rect x="101" y="190.0" width="1" height="69.0" fill="#089981"/>
<rect x="100" y="204.0" width="3" height="31.0" fill="#089981"/>
<rect x="105" y="197.0" width="1" height="13.0" fill="#f23645"/>
<rect x="104" y="204.0" width="3" height="1.0" fill="#f23645"/>
<rect x="110" y="159.0" width="1" height="57.0" fill="#089981"/>
<rect x="109" y="160.0" width="3" height="44.0" fill="#089981"/>
<rect x="114" y="135.0" width="1" height="26.0" fill="#089981"/>
<rect x="113" y="142.5" width="3" height="18.1" fill="#089981"/>
<rect x="118" y="120.0" width="1" height="33.0" fill="#f23645"/>
<rect x="117" y="142.5" width="3" height="10.0" fill="#f23645"/>
<rect x="122" y="151.0" width="1" height="32.8" fill="#f23645"/>
<rect x="121" y="152.0" width="3" height="28.6" fill="#f23645"/>
<rect x="126" y="145.6" width="1" height="38.2" fill="#089981"/>
<rect x="125" y="163.0" width="3" height="17.6" fill="#089981"/>
<rect x="130" y="135.0" width="1" height="29.0" fill="#089981"/>
<rect x="129" y="141.0" width="3" height="22.8" fill="#089981"/>
<rect x="135" y="130.6" width="1" height="20.4" fill="#089981"/>
<rect x="134" y="133.8" width="3" height="8.2" fill="#089981"/>
<rect x="139" y="114.4" width="1" height="24.3" fill="#089981"/>
<rect x="138" y="120.0" width="3" height="13.8" fill="#089981"/>
<rect x="143" y="114.4" width="1" height="34.3" fill="#f23645"/>
<rect x="142" y="120.0" width="3" height="22.0" fill="#f23645"/>
<rect x="147" y="114.4" width="1" height="31.6" fill="#089981"/>
<rect x="146" y="120.0" width="3" height="22.0" fill="#089981"/>
<rect x="151" y="99.4" width="1" height="66.6" fill="#f23645"/>
<rect x="150" y="120.0" width="3" height="32.0" fill="#f23645"/>
<rect x="156" y="127.0" width="1" height="26.0" fill="#089981"/>
<rect x="155" y="133.8" width="3" height="18.2" fill="#089981"/>
<rect x="160" y="113.0" width="1" height="23.0" fill="#089981"/>
<rect x="159" y="120.0" width="3" height="13.8" fill="#089981"/>
<rect x="164" y="113.0" width="1" height="27.0" fill="#f23645"/>
<rect x="163" y="120.0" width="3" height="6.0" fill="#f23645"/>
<rect x="168" y="123.8" width="1" height="26.2" fill="#f23645"/>
<rect x="167" y="126.0" width="3" height="15.0" fill="#f23645"/>
<rect x="172" y="115.6" width="1" height="28.4" fill="#089981"/>
<rect x="171" y="135.0" width="3" height="6.0" fill="#089981"/>
<rect x="176" y="120.6" width="1" height="41.9" fill="#f23645"/>
<rect x="175" y="135.0" width="3" height="4.0" fill="#f23645"/>
<rect x="181" y="132.5" width="1" height="11.5" fill="#089981"/>
<rect x="180" y="137.5" width="3" height="1.2" fill="#089981"/>
<rect x="185" y="122.5" width="1" height="29.5" fill="#089981"/>
<rect x="184" y="130.6" width="3" height="21.4" fill="#089981"/>
<rect x="189" y="130.0" width="1" height="32.5" fill="#f23645"/>
<rect x="188" y="130.6" width="3" height="28.8" fill="#f23645"/>
<rect x="193" y="147.5" width="1" height="29.5" fill="#f23645"/>
<rect x="192" y="159.4" width="3" height="9.3" fill="#f23645"/>
<rect x="197" y="150.0" width="1" height="26.0" fill="#f23645"/>
<rect x="196" y="168.8" width="3" height="5.7" fill="#f23645"/>
<rect x="201" y="159.0" width="1" height="23.0" fill="#f23645"/>
<rect x="200" y="174.0" width="3" height="3.0" fill="#f23645"/>
<rect x="206" y="173.0" width="1" height="23.0" fill="#f23645"/>
<rect x="205" y="177.0" width="3" height="11.5" fill="#f23645"/>
<rect x="210" y="182.5" width="1" height="27.5" fill="#f23645"/>
<rect x="209" y="188.0" width="3" height="4.0" fill="#f23645"/>
<rect x="214" y="190.0" width="1" height="33.8" fill="#f23645"/>
<rect x="213" y="192.0" width="3" height="27.4" fill="#f23645"/>
<rect x="218" y="209.0" width="1" height="39.0" fill="#f23645"/>
<rect x="217" y="219.0" width="3" height="22.0" fill="#f23645"/>
<rect x="222" y="218.8" width="1" height="50.0" fill="#089981"/>
<rect x="221" y="224.4" width="3" height="16.6" fill="#089981"/>
<rect x="226" y="193.0" width="1" height="42.6" fill="#089981"/>
<rect x="225" y="200.0" width="3" height="24.4" fill="#089981"/>
<rect x="231" y="186.0" width="1" height="15.0" fill="#089981"/>
<rect x="230" y="194.4" width="3" height="5.6" fill="#089981"/>
<rect x="235" y="192.0" width="1" height="9.0" fill="#f23645"/>
<rect x="234" y="194.4" width="3" height="3.1" fill="#f23645"/>
<rect x="239" y="172.0" width="1" height="40.0" fill="#089981"/>
<rect x="238" y="181.0" width="3" height="16.0" fill="#089981"/>
<rect x="243" y="162.0" width="1" height="21.0" fill="#089981"/>
<rect x="242" y="178.8" width="3" height="2.2" fill="#089981"/>
<rect x="247" y="152.5" width="1" height="27.5" fill="#089981"/>
<rect x="246" y="160.6" width="3" height="18.2" fill="#089981"/>
<rect x="251" y="156.0" width="1" height="31.0" fill="#f23645"/>
<rect x="250" y="160.6" width="3" height="20.9" fill="#f23645"/>
<rect x="256" y="97.0" width="1" height="110.5" fill="#089981"/>
<rect x="255" y="107.5" width="3" height="74.5" fill="#089981"/>
<rect x="260" y="82.0" width="1" height="31.0" fill="#089981"/>
<rect x="259" y="99.4" width="3" height="8.6" fill="#089981"/>
<rect x="264" y="90.0" width="1" height="15.6" fill="#089981"/>
<rect x="263" y="93.8" width="3" height="6.2" fill="#089981"/>
<rect x="268" y="83.0" width="1" height="38.0" fill="#f23645"/>
<rect x="267" y="93.8" width="3" height="16.8" fill="#f23645"/>
<rect x="272" y="100.0" width="1" height="27.0" fill="#f23645"/>
<rect x="271" y="110.6" width="3" height="8.2" fill="#f23645"/>
<rect x="276" y="97.0" width="1" height="78.6" fill="#f23645"/>
<rect x="275" y="118.8" width="3" height="50.7" fill="#f23645"/>
<rect x="281" y="152.5" width="1" height="24.5" fill="#f23645"/>
<rect x="280" y="169.0" width="3" height="1.0" fill="#f23645"/>
<rect x="285" y="166.0" width="1" height="19.0" fill="#f23645"/>
<rect x="284" y="169.4" width="3" height="14.3" fill="#f23645"/>
<rect x="289" y="178.8" width="1" height="21.8" fill="#f23645"/>
<rect x="288" y="182.5" width="3" height="1.5" fill="#f23645"/>
<rect x="293" y="174.0" width="1" height="29.0" fill="#f23645"/>
<rect x="292" y="183.8" width="3" height="5.7" fill="#f23645"/>
<rect x="297" y="180.0" width="1" height="105.0" fill="#f23645"/>
<rect x="296" y="189.4" width="3" height="87.6" fill="#f23645"/>
<rect x="301" y="257.0" width="1" height="69.0" fill="#f23645"/>
<rect x="300" y="276.0" width="3" height="35.0" fill="#f23645"/>
<rect x="306" y="311.0" width="1" height="28.4" fill="#f23645"/>
<rect x="305" y="311.0" width="3" height="28.4" fill="#f23645"/>
<rect x="310" y="327.5" width="1" height="41.5" fill="#089981"/>
<rect x="309" y="340.6" width="3" height="28.1" fill="#089981"/>
<rect x="314" y="307.0" width="1" height="38.0" fill="#089981"/>
<rect x="313" y="308.0" width="3" height="33.0" fill="#089981"/>
<rect x="318" y="307.0" width="1" height="58.0" fill="#f23645"/>
<rect x="317" y="308.0" width="3" height="56.0" fill="#f23645"/>
<rect x="322" y="342.5" width="1" height="31.5" fill="#f23645"/>
<rect x="321" y="364.0" width="3" height="8.0" fill="#f23645"/>
<rect x="326" y="363.0" width="1" height="42.0" fill="#f23645"/>
<rect x="325" y="371.0" width="3" height="21.0" fill="#f23645"/>
<rect x="331" y="367.0" width="1" height="27.0" fill="#089981"/>
<rect x="330" y="379.0" width="3" height="12.0" fill="#089981"/>
<rect x="335" y="352.0" width="1" height="29.0" fill="#089981"/>
<rect x="334" y="355.6" width="3" height="24.4" fill="#089981"/>
<rect x="339" y="304.0" width="1" height="55.0" fill="#089981"/>
<rect x="338" y="317.5" width="3" height="38.5" fill="#089981"/>
<rect x="343" y="307.0" width="1" height="41.0" fill="#f23645"/>
<rect x="342" y="318.0" width="3" height="2.0" fill="#f23645"/>
<rect x="347" y="316.0" width="1" height="41.5" fill="#f23645"/>
<rect x="346" y="317.5" width="3" height="32.5" fill="#f23645"/>
<rect x="352" y="265.0" width="1" height="109.0" fill="#089981"/>
<rect x="351" y="273.0" width="3" height="77.0" fill="#089981"/>
<rect x="356" y="267.5" width="1" height="87.5" fill="#f23645"/>
<rect x="355" y="273.0" width="3" height="25.8" fill="#f23645"/>
<rect x="360" y="284.0" width="1" height="23.5" fill="#f23645"/>
<rect x="359" y="297.5" width="3" height="1.2" fill="#f23645"/>
<rect x="364" y="283.8" width="1" height="21.9" fill="#089981"/>
<rect x="363" y="289.0" width="3" height="9.8" fill="#089981"/>
<rect x="368" y="255.6" width="1" height="35.4" fill="#089981"/>
<rect x="367" y="266.0" width="3" height="24.0" fill="#089981"/>
<rect x="372" y="265.0" width="1" height="35.6" fill="#f23645"/>
<rect x="371" y="266.0" width="3" height="32.0" fill="#f23645"/>
<rect x="377" y="288.0" width="1" height="42.0" fill="#f23645"/>
<rect x="376" y="298.0" width="3" height="25.8" fill="#f23645"/>
<rect x="381" y="315.0" width="1" height="23.8" fill="#f23645"/>
<rect x="380" y="323.0" width="3" height="13.0" fill="#f23645"/>
<rect x="385" y="313.8" width="1" height="25.0" fill="#089981"/>
<rect x="384" y="317.5" width="3" height="18.1" fill="#089981"/>
<rect x="389" y="295.0" width="1" height="24.0" fill="#089981"/>
<rect x="388" y="302.0" width="3" height="16.0" fill="#089981"/>
<rect x="393" y="272.0" width="1" height="31.0" fill="#089981"/>
<rect x="392" y="277.0" width="3" height="25.0" fill="#089981"/>
<rect x="397" y="240.0" width="1" height="42.0" fill="#089981"/>
<rect x="396" y="240.6" width="3" height="36.9" fill="#089981"/>
<rect x="402" y="240.0" width="1" height="70.6" fill="#f23645"/>
<rect x="401" y="240.6" width="3" height="61.4" fill="#f23645"/>
<rect x="406" y="301.0" width="1" height="28.0" fill="#f23645"/>
<rect x="405" y="302.0" width="3" height="19.0" fill="#f23645"/>
<rect x="410" y="307.0" width="1" height="20.0" fill="#089981"/>
<rect x="409" y="319.4" width="3" height="1.6" fill="#089981"/>
<rect x="414" y="317.5" width="1" height="29.5" fill="#f23645"/>
<rect x="413" y="319.4" width="3" height="14.4" fill="#f23645"/>
<rect x="418" y="295.0" width="1" height="45.6" fill="#089981"/>
<rect x="417" y="325.0" width="3" height="8.8" fill="#089981"/>
<rect x="422" y="308.0" width="1" height="32.0" fill="#089981"/>
<rect x="421" y="315.0" width="3" height="10.6" fill="#089981"/>
<rect x="427" y="307.0" width="1" height="42.0" fill="#f23645"/>
<rect x="426" y="315.0" width="3" height="27.5" fill="#f23645"/>
<rect x="431" y="334.0" width="1" height="12.0" fill="#f23645"/>
<rect x="430" y="342.5" width="3" height="1.5" fill="#f23645"/>
<rect x="435" y="340.0" width="1" height="30.0" fill="#f23645"/>
<rect x="434" y="344.0" width="3" height="6.6" fill="#f23645"/>
<rect x="439" y="345.0" width="1" height="11.0" fill="#089981"/>
<rect x="438" y="349.0" width="3" height="2.0" fill="#089981"/>
<rect x="443" y="323.0" width="1" height="29.0" fill="#089981"/>
<rect x="442" y="338.0" width="3" height="12.0" fill="#089981"/>
<rect x="447" y="307.0" width="1" height="38.0" fill="#089981"/>
<rect x="446" y="325.0" width="3" height="13.8" fill="#089981"/>
<rect x="452" y="283.8" width="1" height="43.8" fill="#089981"/>
<rect x="451" y="288.0" width="3" height="37.6" fill="#089981"/>
<rect x="456" y="281.0" width="1" height="13.0" fill="#f23645"/>
<rect x="455" y="288.0" width="3" height="2.0" fill="#f23645"/>
<rect x="460" y="282.5" width="1" height="22.5" fill="#f23645"/>
<rect x="459" y="289.4" width="3" height="11.2" fill="#f23645"/>
<rect x="464" y="279.0" width="1" height="27.0" fill="#089981"/>
<rect x="463" y="287.5" width="3" height="13.1" fill="#089981"/>
<rect x="468" y="279.0" width="1" height="19.0" fill="#089981"/>
<rect x="467" y="284.0" width="3" height="3.5" fill="#089981"/>
<rect x="472" y="220.0" width="1" height="101.0" fill="#089981"/>
<rect x="471" y="258.0" width="3" height="26.0" fill="#089981"/>
<rect x="477" y="248.8" width="1" height="87.2" fill="#f23645"/>
<rect x="476" y="258.0" width="3" height="22.0" fill="#f23645"/>
<rect x="481" y="258.0" width="1" height="25.0" fill="#089981"/>
<rect x="480" y="270.6" width="3" height="9.4" fill="#089981"/>
<rect x="485" y="263.8" width="1" height="16.2" fill="#f23645"/>
<rect x="484" y="270.6" width="3" height="7.4" fill="#f23645"/>
<rect x="489" y="275.6" width="1" height="51.9" fill="#f23645"/>
<rect x="488" y="278.0" width="3" height="47.0" fill="#f23645"/>
<rect x="493" y="322.0" width="1" height="44.0" fill="#f23645"/>
<rect x="492" y="324.0" width="3" height="23.0" fill="#f23645"/>
<rect x="497" y="343.8" width="1" height="42.2" fill="#f23645"/>
<rect x="496" y="346.0" width="3" height="32.0" fill="#f23645"/>
<rect x="502" y="364.0" width="1" height="33.5" fill="#089981"/>
<rect x="501" y="376.0" width="3" height="2.0" fill="#089981"/>
<rect x="506" y="350.6" width="1" height="33.4" fill="#089981"/>
<rect x="505" y="357.5" width="3" height="19.5" fill="#089981"/>
<rect x="510" y="345.0" width="1" height="48.0" fill="#089981"/>
<rect x="509" y="356.5" width="3" height="1.0" fill="#089981"/>
<rect x="514" y="333.0" width="1" height="25.0" fill="#089981"/>
<rect x="513" y="343.8" width="3" height="13.8" fill="#089981"/>
<rect x="518" y="320.6" width="1" height="34.4" fill="#089981"/>
<rect x="517" y="340.0" width="3" height="4.0" fill="#089981"/>
<rect x="522" y="330.6" width="1" height="58.4" fill="#f23645"/>
<rect x="521" y="340.0" width="3" height="43.8" fill="#f23645"/>
<rect x="527" y="357.0" width="1" height="66.8" fill="#089981"/>
<rect x="526" y="360.6" width="3" height="23.1" fill="#089981"/>
<rect x="531" y="354.0" width="1" height="33.5" fill="#f23645"/>
<rect x="530" y="360.6" width="3" height="23.1" fill="#f23645"/>
<rect x="535" y="381.0" width="1" height="29.6" fill="#f23645"/>
<rect x="534" y="383.0" width="3" height="25.0" fill="#f23645"/>
<rect x="539" y="406.0" width="1" height="25.0" fill="#f23645"/>
<rect x="538" y="407.5" width="3" height="18.1" fill="#f23645"/>
<rect x="543" y="413.0" width="1" height="30.8" fill="#f23645"/>
<rect x="542" y="425.0" width="3" height="17.5" fill="#f23645"/>
<rect x="547" y="423.8" width="1" height="28.2" fill="#089981"/>
<rect x="546" y="428.8" width="3" height="13.8" fill="#089981"/>
<rect x="552" y="383.0" width="1" height="49.5" fill="#089981"/>
<rect x="551" y="398.0" width="3" height="31.0" fill="#089981"/>
<rect x="556" y="376.0" width="1" height="24.0" fill="#089981"/>
<rect x="555" y="383.8" width="3" height="15.0" fill="#089981"/>
<rect x="560" y="379.0" width="1" height="21.0" fill="#089981"/>
<rect x="559" y="383.0" width="3" height="13.0" fill="#089981"/>
<rect x="564" y="353.0" width="1" height="32.0" fill="#089981"/>
<rect x="563" y="354.0" width="3" height="29.8" fill="#089981"/>
<rect x="568" y="343.8" width="1" height="22.2" fill="#f23645"/>
<rect x="567" y="354.0" width="3" height="11.0" fill="#f23645"/>
<rect x="573" y="339.0" width="1" height="27.0" fill="#089981"/>
<rect x="572" y="341.0" width="3" height="24.0" fill="#089981"/>
<rect x="577" y="338.0" width="1" height="9.0" fill="#f23645"/>
<rect x="576" y="341.0" width="3" height="4.6" fill="#f23645"/>
<rect x="581" y="343.8" width="1" height="14.2" fill="#f23645"/>
<rect x="580" y="345.0" width="3" height="12.5" fill="#f23645"/>
<rect x="585" y="338.0" width="1" height="27.6" fill="#089981"/>
<rect x="584" y="354.0" width="3" height="3.5" fill="#089981"/>
<rect x="589" y="348.0" width="1" height="22.0" fill="#f23645"/>
<rect x="588" y="354.0" width="3" height="11.0" fill="#f23645"/>
<rect x="593" y="360.6" width="1" height="32.4" fill="#f23645"/>
<rect x="592" y="364.0" width="3" height="6.6" fill="#f23645"/>
<rect x="598" y="367.5" width="1" height="32.5" fill="#f23645"/>
<rect x="597" y="370.0" width="3" height="28.8" fill="#f23645"/>
<rect x="602" y="360.0" width="1" height="49.0" fill="#f23645"/>
<rect x="601" y="398.0" width="3" height="1.0" fill="#f23645"/>
<rect x="606" y="396.0" width="1" height="20.0" fill="#f23645"/>
<rect x="605" y="398.0" width="3" height="17.0" fill="#f23645"/>
<rect x="610" y="398.0" width="1" height="34.5" fill="#f23645"/>
<rect x="609" y="414.0" width="3" height="11.6" fill="#f23645"/>
<rect x="614" y="422.5" width="1" height="14.5" fill="#f23645"/>
<rect x="613" y="425.0" width="3" height="6.0" fill="#f23645"/>
<rect x="618" y="427.0" width="1" height="26.8" fill="#f23645"/>
<rect x="617" y="430.6" width="3" height="13.9" fill="#f23645"/>
<rect x="623" y="415.6" width="1" height="34.4" fill="#089981"/>
<rect x="622" y="434.0" width="3" height="10.5" fill="#089981"/>
<rect x="627" y="426.0" width="1" height="30.0" fill="#f23645"/>
<rect x="626" y="434.0" width="3" height="9.5" fill="#f23645"/>
<rect x="631" y="434.0" width="1" height="38.5" fill="#f23645"/>
<rect x="630" y="443.0" width="3" height="24.0" fill="#f23645"/>
<rect x="635" y="429.6" width="1" height="38.4" fill="#089981"/>
<rect x="634" y="431.0" width="3" height="36.0" fill="#089981"/>
<rect x="639" y="422.5" width="1" height="23.1" fill="#f23645"/>
<rect x="638" y="431.0" width="3" height="12.8" fill="#f23645"/>
<rect x="643" y="429.0" width="1" height="22.0" fill="#f23645"/>
<rect x="642" y="443.0" width="3" height="7.0" fill="#f23645"/>
<rect x="648" y="430.0" width="1" height="30.0" fill="#f23645"/>
<rect x="647" y="449.0" width="3" height="3.5" fill="#f23645"/>
<rect x="652" y="428.0" width="1" height="58.0" fill="#f23645"/>
<rect x="651" y="451.0" width="3" height="31.5" fill="#f23645"/>
<rect x="656" y="451.0" width="1" height="33.0" fill="#089981"/>
<rect x="655" y="461.0" width="3" height="21.5" fill="#089981"/>
<rect x="660" y="443.0" width="1" height="24.5" fill="#089981"/>
<rect x="659" y="448.0" width="3" height="13.0" fill="#089981"/>
<rect x="664" y="441.0" width="1" height="18.0" fill="#f23645"/>
<rect x="663" y="448.0" width="3" height="9.5" fill="#f23645"/>
<rect x="668" y="452.5" width="1" height="38.1" fill="#f23645"/>
<rect x="667" y="457.5" width="3" height="27.5" fill="#f23645"/>
<rect x="673" y="480.0" width="1" height="65.0" fill="#f23645"/>
<rect x="672" y="485.0" width="3" height="45.0" fill="#f23645"/>
<rect x="677" y="529.0" width="1" height="26.0" fill="#f23645"/>
<rect x="676" y="530.0" width="3" height="21.0" fill="#f23645"/>
<rect x="681" y="540.6" width="1" height="12.4" fill="#089981"/>
<rect x="680" y="550.0" width="3" height="1.0" fill="#089981"/>
<rect x="685" y="530.6" width="1" height="18.1" fill="#089981"/>
<rect x="684" y="532.0" width="3" height="12.0" fill="#089981"/>
<rect x="689" y="531.0" width="1" height="46.0" fill="#f23645"/>
<rect x="688" y="532.5" width="3" height="43.5" fill="#f23645"/>
<rect x="693" y="546.0" width="1" height="31.0" fill="#089981"/>
<rect x="692" y="557.5" width="3" height="18.5" fill="#089981"/>
<rect x="698" y="544.5" width="1" height="28.0" fill="#089981"/>
<rect x="697" y="550.0" width="3" height="7.5" fill="#089981"/>
<rect x="702" y="528.5" width="1" height="31.5" fill="#089981"/>
<rect x="701" y="538.0" width="3" height="12.6" fill="#089981"/>
<rect x="706" y="527.0" width="1" height="14.0" fill="#089981"/>
<rect x="705" y="533.8" width="3" height="4.2" fill="#089981"/>
<rect x="710" y="522.0" width="1" height="18.0" fill="#089981"/>
<rect x="709" y="529.0" width="3" height="5.0" fill="#089981"/>
<rect x="714" y="522.0" width="1" height="31.0" fill="#f23645"/>
<rect x="713" y="529.0" width="3" height="22.5" fill="#f23645"/>
<rect x="718" y="538.8" width="1" height="32.2" fill="#f23645"/>
<rect x="717" y="550.6" width="3" height="3.4" fill="#f23645"/>
<rect x="723" y="528.0" width="1" height="27.0" fill="#089981"/>
<rect x="722" y="529.0" width="3" height="25.0" fill="#089981"/>
<rect x="727" y="513.5" width="1" height="17.5" fill="#089981"/>
<rect x="726" y="518.8" width="3" height="11.2" fill="#089981"/>
<rect x="731" y="517.0" width="1" height="31.0" fill="#f23645"/>
<rect x="730" y="518.0" width="3" height="29.0" fill="#f23645"/>
<rect x="735" y="538.0" width="1" height="42.6" fill="#089981"/>
<rect x="734" y="539.0" width="3" height="6.0" fill="#089981"/>
<rect x="739" y="509.0" width="1" height="41.0" fill="#089981"/>
<rect x="738" y="523.0" width="3" height="18.0" fill="#089981"/>
<rect x="743" y="492.0" width="1" height="32.0" fill="#089981"/>
<rect x="742" y="508.0" width="3" height="15.0" fill="#089981"/>
<rect x="748" y="485.0" width="1" height="33.0" fill="#f23645"/>
<rect x="747" y="508.0" width="3" height="9.0" fill="#f23645"/>
<rect x="752" y="498.0" width="1" height="49.5" fill="#089981"/>
<rect x="751" y="508.8" width="3" height="8.2" fill="#089981"/>
<rect x="756" y="507.5" width="1" height="18.1" fill="#f23645"/>
<rect x="755" y="508.8" width="3" height="3.8" fill="#f23645"/>
<rect x="760" y="503.8" width="1" height="40.0" fill="#f23645"/>
<rect x="759" y="512.0" width="3" height="20.5" fill="#f23645"/>
<rect x="764" y="516.0" width="1" height="24.6" fill="#f23645"/>
<rect x="763" y="532.0" width="3" height="3.5" fill="#f23645"/>
<rect x="768" y="523.0" width="1" height="24.5" fill="#f23645"/>
<rect x="767" y="534.5" width="3" height="2.5" fill="#f23645"/>
<rect x="773" y="529.5" width="1" height="38.5" fill="#f23645"/>
<rect x="772" y="536.0" width="3" height="31.0" fill="#f23645"/>
<rect x="777" y="533.8" width="1" height="34.2" fill="#089981"/>
<rect x="776" y="562.5" width="3" height="4.5" fill="#089981"/>
<rect x="781" y="534.0" width="1" height="31.6" fill="#089981"/>
<rect x="780" y="543.0" width="3" height="20.0" fill="#089981"/>
<rect x="785" y="518.8" width="1" height="35.0" fill="#089981"/>
<rect x="784" y="526.0" width="3" height="17.8" fill="#089981"/>
<rect x="789" y="519.0" width="1" height="15.0" fill="#089981"/>
<rect x="788" y="525.6" width="3" height="1.4" fill="#089981"/>
<rect x="794" y="503.8" width="1" height="24.2" fill="#089981"/>
<rect x="793" y="513.8" width="3" height="13.8" fill="#089981"/>
<rect x="798" y="505.0" width="1" height="22.0" fill="#089981"/>
<rect x="797" y="512.0" width="3" height="1.8" fill="#089981"/>
<rect x="802" y="506.0" width="1" height="34.0" fill="#089981"/>
<rect x="801" y="510.6" width="3" height="1.9" fill="#089981"/>
<rect x="806" y="494.0" width="1" height="21.0" fill="#089981"/>
<rect x="805" y="505.0" width="3" height="6.0" fill="#089981"/>
<rect x="810" y="509.0" width="1" height="22.0" fill="#089981"/>
<rect x="809" y="517.5" width="3" height="12.5" fill="#089981"/>
<rect x="814" y="500.0" width="1" height="24.0" fill="#089981"/>
<rect x="813" y="515.0" width="3" height="2.5" fill="#089981"/>
<rect x="819" y="508.0" width="1" height="33.0" fill="#f23645"/>
<rect x="818" y="515.0" width="3" height="25.0" fill="#f23645"/>
<rect x="823" y="530.6" width="1" height="26.9" fill="#089981"/>
<rect x="822" y="539.0" width="3" height="1.0" fill="#089981"/>
<rect x="827" y="529.0" width="1" height="16.0" fill="#089981"/>
<rect x="826" y="536.0" width="3" height="4.0" fill="#089981"/>
<rect x="831" y="535.0" width="1" height="18.0" fill="#f23645"/>
<rect x="830" y="536.0" width="3" height="7.8" fill="#f23645"/>
<rect x="835" y="533.8" width="1" height="17.2" fill="#089981"/>
<rect x="834" y="535.0" width="3" height="8.8" fill="#089981"/>
<rect x="839" y="523.8" width="1" height="60.0" fill="#f23645"/>
<rect x="838" y="535.0" width="3" height="29.0" fill="#f23645"/>
<rect x="844" y="555.6" width="1" height="47.4" fill="#f23645"/>
<rect x="843" y="563.8" width="3" height="38.8" fill="#f23645"/>
<rect x="848" y="598.8" width="1" height="21.2" fill="#f23645"/>
<rect x="847" y="602.0" width="3" height="17.0" fill="#f23645"/>
<rect x="852" y="616.0" width="1" height="74.0" fill="#f23645"/>
<rect x="851" y="618.8" width="3" height="68.2" fill="#f23645"/>
<rect x="856" y="681.0" width="1" height="23.0" fill="#f23645"/>
<rect x="855" y="686.0" width="3" height="15.0" fill="#f23645"/>
<rect x="860" y="687.0" width="1" height="16.0" fill="#089981"/>
<rect x="859" y="695.6" width="3" height="5.4" fill="#089981"/>
<rect x="864" y="688.0" width="1" height="30.0" fill="#089981"/>
<rect x="863" y="693.0" width="3" height="3.0" fill="#089981"/>
<rect x="869" y="675.0" width="1" height="19.0" fill="#089981"/>
<rect x="868" y="680.0" width="3" height="13.0" fill="#089981"/>
<rect x="873" y="673.8" width="1" height="18.2" fill="#f23645"/>
<rect x="872" y="680.0" width="3" height="6.0" fill="#f23645"/>
<rect x="877" y="652.0" width="1" height="42.0" fill="#f23645"/>
<rect x="876" y="686.0" width="3" height="7.0" fill="#f23645"/>
<rect x="881" y="688.8" width="1" height="12.2" fill="#f23645"/>
<rect x="880" y="693.0" width="3" height="2.6" fill="#f23645"/>
<rect x="885" y="688.0" width="1" height="20.0" fill="#f23645"/>
<rect x="884" y="695.6" width="3" height="7.4" fill="#f23645"/>
<rect x="889" y="662.5" width="1" height="41.5" fill="#089981"/>
<rect x="888" y="675.0" width="3" height="28.0" fill="#089981"/>
<rect x="894" y="658.0" width="1" height="18.0" fill="#089981"/>
<rect x="893" y="672.0" width="3" height="3.0" fill="#089981"/>
<rect x="898" y="651.0" width="1" height="23.0" fill="#089981"/>
<rect x="897" y="653.0" width="3" height="19.5" fill="#089981"/>
<rect x="902" y="643.0" width="1" height="33.0" fill="#f23645"/>
<rect x="901" y="653.0" width="3" height="22.0" fill="#f23645"/>
<rect x="906" y="668.0" width="1" height="40.0" fill="#f23645"/>
<rect x="905" y="673.8" width="3" height="20.2" fill="#f23645"/>
<rect x="910" y="691.0" width="1" height="20.0" fill="#f23645"/>
<rect x="909" y="693.8" width="3" height="9.2" fill="#f23645"/>
<rect x="914" y="681.0" width="1" height="33.0" fill="#089981"/>
<rect x="913" y="695.0" width="3" height="8.0" fill="#089981"/>
<rect x="919" y="680.0" width="1" height="30.0" fill="#f23645"/>
<rect x="918" y="695.6" width="3" height="3.1" fill="#f23645"/>
<rect x="923" y="646.0" width="1" height="55.0" fill="#089981"/>
<rect x="922" y="672.0" width="3" height="26.8" fill="#089981"/>
<rect x="927" y="639.0" width="1" height="47.0" fill="#089981"/>
<rect x="926" y="667.5" width="3" height="5.0" fill="#089981"/>
<rect x="931" y="661.0" width="1" height="48.0" fill="#f23645"/>
<rect x="930" y="667.5" width="3" height="36.2" fill="#f23645"/>
<rect x="935" y="632.0" width="1" height="54.0" fill="#f23645"/>
<rect x="934" y="670.6" width="3" height="1.4" fill="#f23645"/>
<rect x="939" y="604.0" width="1" height="76.0" fill="#089981"/>
<rect x="938" y="611.0" width="3" height="61.0" fill="#089981"/>
<rect x="944" y="598.0" width="1" height="24.5" fill="#f23645"/>
<rect x="943" y="611.0" width="3" height="9.0" fill="#f23645"/>
<rect x="948" y="617.0" width="1" height="51.0" fill="#f23645"/>
<rect x="947" y="618.8" width="3" height="18.8" fill="#f23645"/>
<rect x="952" y="557.0" width="1" height="88.6" fill="#089981"/>
<rect x="951" y="609.5" width="3" height="28.0" fill="#089981"/>
<rect x="956" y="595.0" width="1" height="20.0" fill="#f23645"/>
<rect x="955" y="610.0" width="3" height="2.5" fill="#f23645"/>
<rect x="960" y="607.0" width="1" height="24.0" fill="#f23645"/>
<rect x="959" y="611.0" width="3" height="19.0" fill="#f23645"/>
<rect x="964" y="623.0" width="1" height="24.0" fill="#f23645"/>
<rect x="963" y="629.0" width="3" height="3.0" fill="#f23645"/>
<rect x="969" y="605.6" width="1" height="28.4" fill="#089981"/>
<rect x="968" y="616.5" width="3" height="16.0" fill="#089981"/>
<rect x="973" y="584.0" width="1" height="56.6" fill="#089981"/>
<rect x="972" y="588.0" width="3" height="29.5" fill="#089981"/>
<rect x="977" y="580.0" width="1" height="41.0" fill="#f23645"/>
<rect x="976" y="588.0" width="3" height="22.6" fill="#f23645"/>
<rect x="981" y="583.0" width="1" height="33.0" fill="#089981"/>
<rect x="980" y="595.0" width="3" height="15.6" fill="#089981"/>
<rect x="985" y="583.0" width="1" height="22.0" fill="#f23645"/>
<rect x="984" y="595.0" width="3" height="8.0" fill="#f23645"/>
<rect x="990" y="562.5" width="1" height="40.5" fill="#089981"/>
<rect x="989" y="582.5" width="3" height="20.0" fill="#089981"/>
<rect x="994" y="581.0" width="1" height="27.8" fill="#f23645"/>
<rect x="993" y="582.5" width="3" height="20.5" fill="#f23645"/>
<rect x="998" y="601.0" width="1" height="46.0" fill="#f23645"/>
<rect x="997" y="603.0" width="3" height="37.0" fill="#f23645"/>
<rect x="1002" y="628.8" width="1" height="64.2" fill="#f23645"/>
<rect x="1001" y="639.4" width="3" height="50.0" fill="#f23645"/>
<rect x="1006" y="653.0" width="1" height="37.0" fill="#089981"/>
<rect x="1005" y="664.4" width="3" height="25.0" fill="#089981"/>
<rect x="1010" y="638.0" width="1" height="36.0" fill="#089981"/>
<rect x="1009" y="642.5" width="3" height="21.9" fill="#089981"/>
<rect x="1015" y="637.0" width="1" height="29.0" fill="#f23645"/>
<rect x="1014" y="642.5" width="3" height="1.2" fill="#f23645"/>
<rect x="1019" y="616.5" width="1" height="31.5" fill="#089981"/>
<rect x="1018" y="625.6" width="3" height="18.1" fill="#089981"/>
<rect x="1023" y="622.0" width="1" height="22.0" fill="#f23645"/>
<rect x="1022" y="625.6" width="3" height="9.4" fill="#f23645"/>
<rect x="1027" y="609.5" width="1" height="39.5" fill="#089981"/>
<rect x="1026" y="625.6" width="3" height="9.4" fill="#089981"/>
<rect x="1031" y="618.8" width="1" height="20.0" fill="#089981"/>
<rect x="1030" y="623.0" width="3" height="3.0" fill="#089981"/>
<rect x="1035" y="612.5" width="1" height="22.5" fill="#089981"/>
<rect x="1034" y="615.6" width="3" height="8.1" fill="#089981"/>
<rect x="1040" y="557.0" width="1" height="60.0" fill="#089981"/>
<rect x="1039" y="558.8" width="3" height="56.9" fill="#089981"/>
<rect x="1044" y="548.8" width="1" height="27.2" fill="#f23645"/>
<rect x="1043" y="559.0" width="3" height="16.0" fill="#f23645"/>
<rect x="1048" y="560.0" width="1" height="30.0" fill="#f23645"/>
<rect x="1047" y="574.0" width="3" height="13.5" fill="#f23645"/>
<rect x="1052" y="570.6" width="1" height="32.4" fill="#089981"/>
<rect x="1051" y="581.0" width="3" height="6.5" fill="#089981"/>
<rect x="1056" y="560.0" width="1" height="24.0" fill="#089981"/>
<rect x="1055" y="577.5" width="3" height="4.5" fill="#089981"/>
<rect x="1060" y="543.0" width="1" height="27.6" fill="#089981"/>
<rect x="1059" y="548.0" width="3" height="14.0" fill="#089981"/>
<rect x="1065" y="546.9" width="1" height="50.1" fill="#f23645"/>
<rect x="1064" y="548.0" width="3" height="47.0" fill="#f23645"/>
<rect x="1069" y="578.8" width="1" height="28.8" fill="#089981"/>
<rect x="1068" y="591.0" width="3" height="3.0" fill="#089981"/>
<rect x="1073" y="570.6" width="1" height="40.4" fill="#089981"/>
<rect x="1072" y="574.0" width="3" height="18.0" fill="#089981"/>
<rect x="1077" y="546.0" width="1" height="31.5" fill="#089981"/>
<rect x="1076" y="555.6" width="3" height="19.4" fill="#089981"/>
<rect x="1081" y="547.5" width="1" height="14.5" fill="#f23645"/>
<rect x="1080" y="555.6" width="3" height="4.4" fill="#f23645"/>
<rect x="1085" y="547.5" width="1" height="27.5" fill="#f23645"/>
<rect x="1084" y="559.0" width="3" height="14.8" fill="#f23645"/>
<rect x="1090" y="570.6" width="1" height="18.4" fill="#f23645"/>
<rect x="1089" y="573.0" width="3" height="12.6" fill="#f23645"/>
<rect x="1094" y="578.0" width="1" height="26.0" fill="#f23645"/>
<rect x="1093" y="585.0" width="3" height="17.5" fill="#f23645"/>
<rect x="1098" y="588.0" width="1" height="17.0" fill="#089981"/>
<rect x="1097" y="593.8" width="3" height="8.8" fill="#089981"/>
<rect x="1102" y="590.0" width="1" height="38.8" fill="#f23645"/>
<rect x="1101" y="593.8" width="3" height="30.0" fill="#f23645"/>
<rect x="1106" y="605.6" width="1" height="19.4" fill="#089981"/>
<rect x="1105" y="611.0" width="3" height="12.8" fill="#089981"/>
<rect x="1110" y="598.0" width="1" height="19.5" fill="#089981"/>
<rect x="1109" y="602.0" width="3" height="9.0" fill="#089981"/>
<rect x="1115" y="580.0" width="1" height="24.0" fill="#089981"/>
<rect x="1114" y="582.0" width="3" height="20.5" fill="#089981"/>
<rect x="1119" y="572.5" width="1" height="15.0" fill="#f23645"/>
<rect x="1118" y="582.0" width="3" height="3.6" fill="#f23645"/>
<rect x="1123" y="575.6" width="1" height="21.9" fill="#f23645"/>
<rect x="1122" y="585.0" width="3" height="10.6" fill="#f23645"/>
<rect x="1127" y="586.0" width="1" height="21.5" fill="#f23645"/>
<rect x="1126" y="595.0" width="3" height="5.6" fill="#f23645"/>
<rect x="1131" y="512.0" width="1" height="94.0" fill="#089981"/>
<rect x="1130" y="592.5" width="3" height="8.1" fill="#089981"/>
<rect x="1135" y="559.0" width="1" height="37.0" fill="#089981"/>
<rect x="1134" y="560.6" width="3" height="31.9" fill="#089981"/>
<rect x="1140" y="529.0" width="1" height="37.0" fill="#089981"/>
<rect x="1139" y="530.6" width="3" height="30.4" fill="#089981"/>
<rect x="1144" y="516.0" width="1" height="27.0" fill="#f23645"/>
<rect x="1143" y="531.0" width="3" height="8.0" fill="#f23645"/>
<rect x="1148" y="536.0" width="1" height="47.0" fill="#f23645"/>
<rect x="1147" y="539.0" width="3" height="43.0" fill="#f23645"/>
<rect x="1152" y="548.8" width="1" height="34.2" fill="#089981"/>
<rect x="1151" y="558.0" width="3" height="24.0" fill="#089981"/>
<rect x="1156" y="557.0" width="1" height="50.5" fill="#f23645"/>
<rect x="1155" y="558.0" width="3" height="37.6" fill="#f23645"/>
<rect x="1160" y="587.0" width="1" height="16.0" fill="#f23645"/>
<rect x="1159" y="595.0" width="3" height="1.0" fill="#f23645"/>
<rect x="1165" y="588.0" width="1" height="30.0" fill="#089981"/>
<rect x="1164" y="589.0" width="3" height="7.0" fill="#089981"/>
<rect x="1169" y="581.0" width="1" height="36.0" fill="#f23645"/>
<rect x="1168" y="589.0" width="3" height="21.3" fill="#f23645"/>
<rect x="1173" y="605.6" width="1" height="48.4" fill="#f23645"/>
<rect x="1172" y="610.0" width="3" height="33.0" fill="#f23645"/>
<rect x="1177" y="628.8" width="1" height="22.2" fill="#089981"/>
<rect x="1176" y="638.8" width="3" height="4.2" fill="#089981"/>
<rect x="1181" y="625.6" width="1" height="14.4" fill="#089981"/>
<rect x="1180" y="637.0" width="3" height="2.0" fill="#089981"/>
<rect x="1186" y="620.0" width="1" height="24.0" fill="#f23645"/>
<rect x="1185" y="629.4" width="3" height="8.1" fill="#f23645"/>
<rect x="1190" y="616.0" width="1" height="24.0" fill="#089981"/>
<rect x="1189" y="629.4" width="3" height="8.1" fill="#089981"/>
<rect x="1194" y="612.5" width="1" height="31.5" fill="#f23645"/>
<rect x="1193" y="628.8" width="3" height="3.2" fill="#f23645"/>
<rect x="1198" y="625.6" width="1" height="21.4" fill="#f23645"/>
<rect x="1197" y="631.0" width="3" height="14.6" fill="#f23645"/>
<rect x="1202" y="622.0" width="1" height="25.0" fill="#089981"/>
<rect x="1201" y="637.0" width="3" height="8.6" fill="#089981"/>
<rect x="1206" y="626.0" width="1" height="14.0" fill="#089981"/>
<rect x="1205" y="628.0" width="3" height="9.5" fill="#089981"/>
<rect x="1211" y="597.5" width="1" height="37.5" fill="#089981"/>
<rect x="1210" y="604.0" width="3" height="25.0" fill="#089981"/>
<rect x="1215" y="581.0" width="1" height="25.0" fill="#089981"/>
<rect x="1214" y="588.0" width="3" height="17.0" fill="#089981"/>
<rect x="1219" y="583.0" width="1" height="24.0" fill="#f23645"/>
<rect x="1218" y="588.0" width="3" height="17.6" fill="#f23645"/>
<rect x="1223" y="589.0" width="1" height="18.5" fill="#089981"/>
<rect x="1222" y="600.6" width="3" height="5.0" fill="#089981"/>
<rect x="1227" y="564.0" width="1" height="38.5" fill="#089981"/>
<rect x="1226" y="565.0" width="3" height="36.0" fill="#089981"/>
<rect x="1231" y="563.0" width="1" height="14.5" fill="#f23645"/>
<rect x="1230" y="565.0" width="3" height="2.0" fill="#f23645"/>
<rect x="1236" y="560.6" width="1" height="28.1" fill="#f23645"/>
<rect x="1235" y="566.0" width="3" height="11.5" fill="#f23645"/>
<rect x="1240" y="572.0" width="1" height="11.0" fill="#089981"/>
<rect x="1239" y="573.0" width="3" height="4.5" fill="#089981"/>
<rect x="1244" y="572.0" width="1" height="43.6" fill="#f23645"/>
<rect x="1243" y="573.0" width="3" height="39.0" fill="#f23645"/>
<rect x="1248" y="592.0" width="1" height="21.0" fill="#089981"/>
<rect x="1247" y="601.0" width="3" height="11.0" fill="#089981"/>
<rect x="1252" y="570.6" width="1" height="41.4" fill="#089981"/>
<rect x="1251" y="597.5" width="3" height="4.5" fill="#089981"/>
<rect x="1256" y="590.0" width="1" height="10.6" fill="#089981"/>
<rect x="1255" y="592.0" width="3" height="6.0" fill="#089981"/>
<rect x="1261" y="589.0" width="1" height="16.0" fill="#f23645"/>
<rect x="1260" y="592.0" width="3" height="10.0" fill="#f23645"/>
<rect x="1265" y="588.0" width="1" height="27.6" fill="#089981"/>
<rect x="1264" y="591.0" width="3" height="11.0" fill="#089981"/>
<rect x="1269" y="555.6" width="1" height="36.4" fill="#089981"/>
<rect x="1268" y="563.0" width="3" height="28.0" fill="#089981"/>
<rect x="1273" y="562.0" width="1" height="25.5" fill="#f23645"/>
<rect x="1272" y="563.0" width="3" height="17.0" fill="#f23645"/>
<rect x="1277" y="563.8" width="1" height="22.2" fill="#089981"/>
<rect x="1276" y="569.4" width="3" height="10.6" fill="#089981"/>
<rect x="1281" y="560.6" width="1" height="16.9" fill="#089981"/>
<rect x="1280" y="562.5" width="3" height="6.9" fill="#089981"/>
<rect x="1286" y="547.5" width="1" height="23.1" fill="#089981"/>
<rect x="1285" y="554.0" width="3" height="8.5" fill="#089981"/>
<rect x="1290" y="540.0" width="1" height="25.0" fill="#f23645"/>
<rect x="1289" y="554.0" width="3" height="10.0" fill="#f23645"/>
<rect x="1294" y="558.0" width="1" height="48.0" fill="#f23645"/>
<rect x="1293" y="563.8" width="3" height="26.2" fill="#f23645"/>
<rect x="1298" y="573.0" width="1" height="19.5" fill="#089981"/>
<rect x="1297" y="575.6" width="3" height="14.4" fill="#089981"/>
<rect x="1302" y="555.6" width="1" height="43.4" fill="#089981"/>
<rect x="1301" y="575.5" width="3" height="1.5" fill="#089981"/>
<rect x="1306" y="575.0" width="1" height="23.0" fill="#f23645"/>
<rect x="1305" y="576.0" width="3" height="18.0" fill="#f23645"/>
<rect x="1311" y="590.0" width="1" height="32.5" fill="#f23645"/>
<rect x="1310" y="597.5" width="3" height="14.5" fill="#f23645"/>
<rect x="1315" y="595.0" width="1" height="20.6" fill="#089981"/>
<rect x="1314" y="610.5" width="3" height="1.5" fill="#089981"/>
<rect x="1319" y="574.0" width="1" height="46.0" fill="#089981"/>
<rect x="1318" y="575.6" width="3" height="36.4" fill="#089981"/>
<rect x="1323" y="502.5" width="1" height="74.5" fill="#089981"/>
<rect x="1322" y="507.5" width="3" height="68.5" fill="#089981"/>
<rect x="1327" y="477.5" width="1" height="34.5" fill="#089981"/>
<rect x="1326" y="482.0" width="3" height="26.0" fill="#089981"/>
<rect x="1331" y="478.0" width="1" height="17.0" fill="#f23645"/>
<rect x="1330" y="482.0" width="3" height="2.0" fill="#f23645"/>
<rect x="1336" y="475.0" width="1" height="15.6" fill="#089981"/>
<rect x="1335" y="482.0" width="3" height="2.0" fill="#089981"/>
<rect x="1340" y="479.0" width="1" height="32.0" fill="#f23645"/>
<rect x="1339" y="482.0" width="3" height="28.0" fill="#f23645"/>
<rect x="1344" y="498.0" width="1" height="39.0" fill="#f23645"/>
<rect x="1343" y="509.0" width="3" height="18.5" fill="#f23645"/>
<rect x="1348" y="510.6" width="1" height="41.4" fill="#f23645"/>
<rect x="1347" y="527.0" width="3" height="24.0" fill="#f23645"/>
<rect x="1352" y="510.6" width="1" height="41.4" fill="#089981"/>
<rect x="1351" y="535.0" width="3" height="16.0" fill="#089981"/>
<rect x="1356" y="517.5" width="1" height="18.5" fill="#089981"/>
<rect x="1355" y="520.0" width="3" height="15.6" fill="#089981"/>
<rect x="1361" y="502.5" width="1" height="18.5" fill="#089981"/>
<rect x="1360" y="512.0" width="3" height="8.6" fill="#089981"/>
<rect x="1365" y="488.8" width="1" height="40.2" fill="#f23645"/>
<rect x="1364" y="512.0" width="3" height="15.5" fill="#f23645"/>
<rect x="1369" y="524.0" width="1" height="56.6" fill="#f23645"/>
<rect x="1368" y="526.0" width="3" height="52.0" fill="#f23645"/>
<rect x="1373" y="557.0" width="1" height="42.0" fill="#089981"/>
<rect x="1372" y="565.0" width="3" height="13.0" fill="#089981"/>
<rect x="1377" y="541.0" width="1" height="34.0" fill="#f23645"/>
<rect x="1376" y="564.0" width="3" height="1.6" fill="#f23645"/>
<rect x="1381" y="550.0" width="1" height="21.0" fill="#089981"/>
<rect x="1380" y="557.0" width="3" height="8.6" fill="#089981"/>
<rect x="1386" y="547.0" width="1" height="22.0" fill="#f23645"/>
<rect x="1385" y="557.0" width="3" height="11.0" fill="#f23645"/>
<rect x="1390" y="566.0" width="1" height="15.0" fill="#f23645"/>
<rect x="1389" y="567.0" width="3" height="13.5" fill="#f23645"/>
<rect x="1394" y="564.5" width="1" height="24.5" fill="#089981"/>
<rect x="1393" y="576.0" width="3" height="4.5" fill="#089981"/>
<rect x="1398" y="571.5" width="1" height="32.5" fill="#f23645"/>
<rect x="1397" y="576.0" width="3" height="27.0" fill="#f23645"/>
<rect x="1402" y="593.5" width="1" height="32.0" fill="#089981"/>
<rect x="1401" y="598.5" width="3" height="3.0" fill="#089981"/>
<rect x="1407" y="593.5" width="1" height="9.5" fill="#f23645"/>
<rect x="1406" y="598.5" width="3" height="1.5" fill="#f23645"/>
<rect x="1411" y="600.0" width="1" height="10.5" fill="#089981"/>
<rect x="1410" y="603.0" width="3" height="1.5" fill="#089981"/>
<rect x="1415" y="590.5" width="1" height="10.5" fill="#089981"/>
<rect x="1414" y="592.0" width="3" height="7.0" fill="#089981"/>
<rect x="1419" y="584.0" width="1" height="17.0" fill="#f23645"/>
<rect x="1418" y="592.0" width="3" height="7.0" fill="#f23645"/>
<rect x="1423" y="589.0" width="1" height="49.0" fill="#f23645"/>
<rect x="1422" y="599.0" width="3" height="2.0" fill="#f23645"/>
<rect x="1427" y="602.0" width="1" height="15.0" fill="#f23645"/>
<rect x="1426" y="603.5" width="3" height="13.0" fill="#f23645"/>
<rect x="1432" y="605.5" width="1" height="18.0" fill="#f23645"/>
<rect x="1431" y="616.5" width="3" height="1.9" fill="#f23645"/>
<!-- last price dotted line -->
<line x1="18" y1="618.4" x2="1779" y2="618.4" stroke="#f23645" stroke-width="1.3" stroke-dasharray="1.3 2.7"/>
<!-- target zone -->
<rect x="1365.5" y="804" width="359" height="22.5" fill="#fbd8db" stroke="#e4606b" stroke-width="1.2"/>
<!-- trendline -->
<line x1="910.6" y1="718.1" x2="1616.2" y2="556.1" stroke="#f23645" stroke-width="6.4" stroke-linecap="round"/>
<!-- arrow -->
<polyline points="1430.5,618.5 1452,595.5 1608.6,822.6" fill="none" stroke="#000" stroke-width="6.4" stroke-linejoin="miter" stroke-miterlimit="10"/>
<polyline points="1618.2,773 1608.8,822.8 1559.6,811.4" fill="none" stroke="#000" stroke-width="6.4" stroke-linejoin="round" stroke-linecap="round"/>
<!-- lightning icon -->
<circle cx="1432.4" cy="870.2" r="16.6" fill="#fff" stroke="#9c27b0" stroke-width="2.2"/>
<path d="M1437.5 859.5 L1425.5 872.2 L1431.6 872.2 L1427.6 881 L1439.6 868.4 L1433.4 868.4 Z" fill="#9c27b0"/>
<!-- RM charts logo -->
<g id="logo" fill="none">
<defs>
<linearGradient id="rg" x1="0" y1="0.6" x2="1" y2="0.3"><stop offset="0" stop-color="#d2ece8"/><stop offset="0.55" stop-color="#e4f4f2"/><stop offset="1" stop-color="#f6fcfb"/></linearGradient>
<linearGradient id="sg" x1="0" y1="0.6" x2="1" y2="0.3"><stop offset="0" stop-color="#9dd5ce"/><stop offset="0.6" stop-color="#b4dfd9"/><stop offset="1" stop-color="#d8efec"/></linearGradient>
</defs>
<ellipse cx="1709" cy="128" rx="96.5" ry="92" fill="url(#rg)" stroke="none"/>
<circle cx="1715" cy="128" r="81" fill="#fff" stroke="none"/>
<ellipse cx="1709.5" cy="128" rx="92.5" ry="89" stroke="url(#sg)" stroke-width="2.4" opacity="0.9"/>
<circle cx="1711" cy="128" r="86" stroke="url(#sg)" stroke-width="2" opacity="0.85"/>
<circle cx="1713" cy="128" r="82" stroke="url(#sg)" stroke-width="1.4" opacity="0.8"/>
<path d="M1640 62 A 96 92 0 0 0 1650 200" stroke="#a5d9d2" stroke-width="3" opacity="0.8"/>
<path d="M1622 160 A 92 90 0 0 0 1730 216" stroke="#9fd6cf" stroke-width="5" opacity="0.8"/>
<path d="M1660 44 A 97 97 0 0 1 1806 128" stroke="#c4e7e3" stroke-width="1" opacity="0.9"/>
<path d="M1655.5 156.5 C1650 149 1645.5 137 1644 123 C1643 111 1646 102 1655 100 C1663 98.5 1669 104 1667.5 110 C1666 118 1656 123 1647.5 127.5 C1655 130.5 1662 131.5 1668 128 C1677 122 1683 109 1693.5 108 C1702 107.5 1707 117 1716 117 C1726 116 1735 104 1743 94 C1748 88 1752 83 1756 79" stroke="#4f9377" stroke-width="2.6" stroke-linecap="round" stroke-linejoin="round"/>
<path d="M1757.5 77 L1751.5 79.5 L1755.5 83 Z" fill="#4f9377" stroke="#4f9377" stroke-width="1"/>
<g fill="#0c1176" stroke="none">
<rect x="1689.3" y="97.5" width="1" height="57"/><rect x="1687.9" y="117" width="3.8" height="33.6"/>
<rect x="1711.8" y="102" width="1" height="48.6"/><rect x="1710.6" y="118.7" width="3.2" height="22.5"/>
<rect x="1736.1" y="93.7" width="1" height="60.8"/><rect x="1734.7" y="105" width="3.8" height="44.4"/>
</g>
<text x="0" y="0" transform="translate(1744.5,146.2) scale(0.638,1)" font-family="Liberation Sans, sans-serif" font-weight="bold" font-size="41.5" fill="#0c1176" stroke="#0c1176" stroke-width="2.2" stroke-linejoin="round">Charts</text>
</g>
<!-- tradingview logo -->
<g fill="#1c1e26">
<path d="M17.5 962 H31 V978 H24 V969 H17.5 Z"/>
<circle cx="36.3" cy="964.6" r="2.7"/>
<path d="M40.4 962 H50 L44.4 978 H36.2 Z"/>
</g>
</svg>

<div class="t" style="left:32px;top:8.5px;font-size:19.8px;letter-spacing:0.3px;color:#4c4e57;">Australian Dollar / U.S. Dollar, 4h, FXCM</div>
<div class="t" style="left:1889.3px;top:3px;font-size:20px;color:#4c4e57;transform:scaleX(0.87);transform-origin:left center;">USD</div>

<!-- price axis -->
<div class="ax" style="top:25.6px">0.72000</div>
<div style="position:absolute;left:1885px;top:20px;width:90px;height:23.5px;background:linear-gradient(to bottom,#fff 0%,#fff 50%,rgba(255,255,255,0) 100%);"></div>
<div class="ax" style="top:79.5px">0.71500</div>
<div class="ax" style="top:133.4px">0.71000</div>
<div class="ax" style="top:187.3px">0.70500</div>
<div class="ax" style="top:241.2px">0.70000</div>
<div class="ax" style="top:295.1px">0.69500</div>
<div class="ax" style="top:349.0px">0.69000</div>
<div class="ax" style="top:402.9px">0.68500</div>
<div class="ax" style="top:456.8px">0.68000</div>
<div class="ax" style="top:510.7px">0.67500</div>
<div class="ax" style="top:564.6px">0.67000</div>
<div class="ax" style="top:618.5px">0.66500</div>
<div class="ax" style="top:672.4px">0.66000</div>
<div class="ax" style="top:726.3px">0.65500</div>
<div class="ax" style="top:780.2px">0.65000</div>
<div class="ax" style="top:834.1px">0.64500</div>

<!-- last price label -->
<div style="position:absolute;left:1779px;top:604px;width:195px;height:28.5px;background:#f23645;border-radius:3px;"></div>
<div style="position:absolute;left:1872.6px;top:604px;width:1.4px;height:28.5px;background:#fbd0d4;"></div>
<div class="t" style="left:1787.6px;top:607.5px;font-size:20px;color:#fff;transform:scaleX(0.865);transform-origin:left center;">AUDUSD</div>
<div class="t" style="left:1891px;top:607.5px;font-size:20px;color:#fff;letter-spacing:-0.1px;">0.66605</div>

<!-- time axis -->
<div class="tm" style="left:63px">23</div>
<div class="tm b" style="left:238.5px">Feb</div>
<div class="tm" style="left:439px">13</div>
<div class="tm" style="left:588px">21</div>
<div class="tm b" style="left:738.8px">Mar</div>
<div class="tm" style="left:938.8px">13</div>
<div class="tm" style="left:1088.5px">21</div>
<div class="tm b" style="left:1310px">Apr</div>
<div class="tm" style="left:1564.5px">17</div>
<div class="tm b" style="left:1814.5px">May</div>

<!-- watermark -->
<div class="wm" style="left:105px;top:818.2px;font-size:25.3px;letter-spacing:0.3px;">WWW.RMCHARTS.IR</div>
<div class="wm" dir="rtl" lang="fa" style="left:44.5px;top:854.5px;font-size:29.2px;font-family:'Liberation Sans','DejaVu Sans',sans-serif;transform:scaleX(0.759);transform-origin:left center;">آر ام چارتس / مرجع بازار های مالی</div>

<div class="t" style="left:56.5px;top:961.2px;font-size:19px;letter-spacing:1.42px;color:#4c4e57;-webkit-text-stroke:0.25px #4c4e57;">TradingView</div>
</body>
</html>
